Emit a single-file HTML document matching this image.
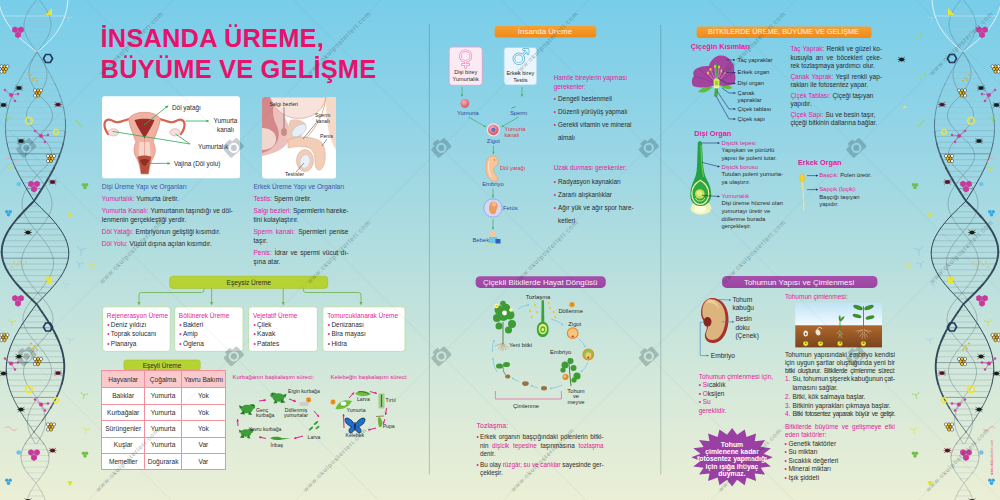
<!DOCTYPE html>
<html lang="tr"><head><meta charset="utf-8"><title>İnsanda Üreme, Büyüme ve Gelişme</title>
<style>
html,body{margin:0;padding:0}
body{width:1000px;height:500px;overflow:hidden;font-family:"Liberation Sans",sans-serif;}
#pg{position:relative;width:1000px;height:500px;overflow:hidden;
background:linear-gradient(180deg,#78cde9 0%,#92d4e6 25%,#b2dddf 50%,#d3e8da 75%,#ebefd5 100%);}
.t{position:absolute;white-space:nowrap;margin:0;padding:0}
.p{color:#e3219a}
.b{color:#e3219a}
svg{position:absolute;left:0;top:0}
table{border-collapse:collapse}
</style></head><body><div id="pg">

<svg width="1000" height="500" viewBox="0 0 1000 500">
<g id="hl"><path d="M33.3,3.0 H42.5 M30.4,8.8 H45.2 M26.9,14.6 H48.5 M24.7,20.4 H50.5 M24.0,26.2 H51.0 M25.0,32.0 H49.8 M27.4,37.8 H47.1 M31.1,43.6 H43.2 M34.4,55.2 H39.4 M31.8,61.0 H41.9 M28.0,66.8 H45.4 M24.3,72.6 H48.9 M20.8,78.4 H52.1 M17.6,84.2 H55.1 M14.7,90.0 H57.8 M12.1,95.8 H60.1 M9.9,101.6 H62.1 M8.1,107.4 H63.6 M6.8,113.2 H64.7 M6.2,119.0 H65.2 M5.6,124.8 H65.5 M25.0,443.8 H43.9 M22.2,449.6 H47.2 M21.0,455.4 H48.9 M21.7,461.2 H48.6 M24.2,467.0 H46.6 M26.8,472.8 H44.3 M31.6,478.6 H40.0 M31.5,490.2 H40.5 M28.4,496.0 H43.6" stroke="#9fbccb" stroke-width=".6" opacity=".6" fill="none"/>
<path d="M5.5,130.6 H65.3 M5.9,136.4 H64.7 M6.8,142.2 H63.6 M8.1,148.0 H62.0 M12.0,159.6 H57.6 M14.5,165.4 H54.9 M17.4,171.2 H51.8 M20.5,177.0 H48.4 M22.7,182.8 H46.1 M29.7,194.4 H38.6 M29.0,206.0 H39.2 M23.2,211.8 H45.3 M17.8,217.6 H51.0 M8.8,229.2 H60.6 M5.5,235.0 H64.2 M3.9,240.8 H66.0 M2.2,246.6 H67.9 M1.7,252.4 H68.7 M4.1,264.0 H67.0 M6.8,269.8 H64.5 M10.6,275.6 H61.1 M15.1,281.4 H56.8 M20.4,287.2 H51.8 M30.3,298.8 H42.5 M32.1,310.4 H40.6 M27.8,316.2 H44.7 M23.7,322.0 H48.5 M16.4,333.6 H55.4 M13.4,339.4 H58.2 M10.8,345.2 H60.6 M8.8,351.0 H62.4 M7.7,356.8 H63.2 M6.2,368.4 H64.2 M6.4,374.2 H63.8 M7.3,380.0 H62.8 M8.7,385.8 H61.1 M10.7,391.6 H58.9 M16.1,403.2 H52.9 M19.5,409.0 H49.3 M22.0,414.8 H46.8 M25.8,420.6 H42.7 M29.9,426.4 H38.4 M29.2,438.0 H39.3" stroke="#6f8796" stroke-width=".55" opacity=".5" fill="none"/>
<path d="M9.8,153.8 H60.0 M26.1,188.6 H42.4 M12.9,223.4 H56.2 M2.4,258.2 H68.4 M26.2,293.0 H46.3 M19.9,327.8 H52.1 M6.7,362.6 H64.1 M13.2,397.4 H56.2" stroke="#4f6676" stroke-width=".8" opacity=".7" fill="none"/>
<path d="M-2,-4 C0,22 18,38 37,52 C52,40 68,24 68,-4" stroke="#e8f6fb" stroke-width="1" fill="none" opacity=".9"/>
<path d="M3.6,16 H65" stroke="#d8eef6" stroke-width=".7" opacity=".8"/>
<path d="M37.0,52.0 L38.4,54.0 L39.8,56.0 L41.1,58.0 L42.3,60.0 L43.5,62.0 L44.5,64.0 L45.3,66.0 L46.0,68.0 L46.5,70.0 L46.9,72.0 L47.0,74.0 L47.0,76.0 L46.7,78.0 L46.3,80.0 L45.7,82.0 L45.0,84.0 L44.1,86.0 L43.1,88.0 L42.0,90.0 L40.8,92.0 L39.6,94.0 L38.0,96.0 L36.0,98.0 L34.2,100.0 L32.4,102.0 L30.8,104.0 L29.4,106.0 L28.2,108.0 L27.4,110.0 L26.8,112.0 L26.5,114.0 L26.6,116.0 L26.9,118.0 L27.6,120.0 L28.6,122.0 L29.8,124.0 L31.3,126.0 L33.0,128.0 L34.9,130.0 L36.9,132.0 L39.0,134.0 L40.9,136.0 L42.8,138.0 L44.6,140.0 L46.3,142.0 L47.8,144.0 L49.1,146.0 L50.1,148.0 L50.9,150.0 L51.4,152.0 L51.5,154.0 L51.4,156.0 L50.9,158.0 L50.1,160.0 L49.1,162.0 L47.7,164.0 L46.1,166.0 L44.3,168.0 L42.3,170.0 L40.3,172.0 L38.1,174.0 L36.2,176.0 L34.5,178.0 L32.9,180.0 L31.4,182.0 L29.9,184.0 L28.5,186.0 L27.1,188.0 L26.0,190.0 L24.9,192.0 L24.0,194.0 L23.3,196.0 L22.7,198.0 L22.3,200.0 L22.1,202.0 L22.0,204.0 L22.1,206.0 L22.5,208.0 L23.0,210.0 L23.6,212.0 L24.4,214.0 L25.4,216.0 L26.5,218.0 L27.8,220.0 L29.1,222.0 L30.6,224.0 L32.1,226.0 L33.7,228.0 L35.3,230.0 L37.0,232.0 L38.7,234.0 L40.3,236.0 L42.0,238.0 L43.5,240.0 L45.0,242.0 L46.5,244.0 L47.8,246.0 L49.0,248.0 L50.1,250.0 L51.0,252.0 L51.9,254.0 L52.5,256.0 L53.0,258.0 L53.3,260.0 L53.5,262.0 L53.5,264.0 L53.3,266.0 L53.0,268.0 L52.4,270.0 L51.8,272.0 L51.0,274.0 L50.0,276.0 L48.9,278.0 L47.7,280.0 L46.4,282.0 L45.0,284.0 L43.5,286.0 L42.0,288.0 L40.4,290.0 L38.8,292.0 L37.1,294.0 L35.3,296.0 L33.5,298.0 L31.8,300.0 L30.2,302.0 L28.7,304.0 L27.4,306.0 L26.2,308.0 L25.2,310.0 L24.3,312.0 L23.7,314.0 L23.2,316.0 L23.0,318.0 L23.0,320.0 L23.2,322.0 L23.7,324.0 L24.3,326.0 L25.2,328.0 L26.2,330.0 L27.4,332.0 L28.7,334.0 L30.2,336.0 L31.8,338.0 L33.5,340.0 L35.3,342.0 L37.1,344.0 L38.8,346.0 L40.4,348.0 L42.0,350.0 L43.5,352.0 L44.9,354.0 L46.3,356.0 L47.5,358.0 L48.6,360.0 L49.5,362.0 L50.3,364.0 L50.9,366.0 L51.3,368.0 L51.5,370.0 L51.5,372.0 L51.3,374.0 L50.9,376.0 L50.4,378.0 L49.6,380.0 L48.7,382.0 L47.6,384.0 L46.4,386.0 L45.0,388.0 L43.5,390.0 L42.0,392.0 L40.4,394.0 L38.7,396.0 L37.0,398.0 L35.8,400.0 L34.5,402.0 L33.4,404.0 L32.2,406.0 L31.2,408.0 L30.3,410.0 L29.5,412.0 L28.8,414.0 L28.2,416.0 L27.8,418.0 L27.6,420.0 L27.5,422.0 L27.6,424.0 L27.8,426.0 L28.2,428.0 L28.7,430.0 L29.4,432.0 L30.2,434.0 L31.1,436.0 L32.1,438.0 L33.2,440.0 L34.3,442.0 L35.4,444.0" stroke="#5d7282" stroke-width=".55" fill="none" opacity=".75"/>
<path d="M37.0,52.0 L35.8,54.0 L34.6,56.0 L33.5,58.0 L32.4,60.0 L31.5,62.0 L30.6,64.0 L30.0,66.0 L29.5,68.0 L29.1,70.0 L29.0,72.0 L29.0,74.0 L29.3,76.0 L29.7,78.0 L30.3,80.0 L31.1,82.0 L32.0,84.0 L33.1,86.0 L34.3,88.0 L35.6,90.0 L36.9,92.0 L38.3,94.0 L40.0,96.0 L42.1,98.0 L44.1,100.0 L46.0,102.0 L47.7,104.0 L49.2,106.0 L50.4,108.0 L51.4,110.0 L52.1,112.0 L52.4,114.0 L52.5,116.0 L52.2,118.0 L51.6,120.0 L50.8,122.0 L49.6,124.0 L48.2,126.0 L46.6,128.0 L44.8,130.0 L43.0,132.0 L41.0,134.0 L38.9,136.0 L36.7,138.0 L34.7,140.0 L32.7,142.0 L30.9,144.0 L29.3,146.0 L27.9,148.0 L26.9,150.0 L26.1,152.0 L25.6,154.0 L25.5,156.0 L25.6,158.0 L26.1,160.0 L26.9,162.0 L27.9,164.0 L29.2,166.0 L30.7,168.0 L32.4,170.0 L34.2,172.0 L36.1,174.0 L37.8,176.0 L39.5,178.0 L41.1,180.0 L42.6,182.0 L44.1,184.0 L45.5,186.0 L46.9,188.0 L48.0,190.0 L49.1,192.0 L50.0,194.0 L50.7,196.0 L51.3,198.0 L51.7,200.0 L51.9,202.0 L52.0,204.0 L51.9,206.0 L51.5,208.0 L51.0,210.0 L50.4,212.0 L49.6,214.0 L48.6,216.0 L47.5,218.0 L46.2,220.0 L44.9,222.0 L43.4,224.0 L41.9,226.0 L40.3,228.0 L38.7,230.0 L37.0,232.0 L35.4,234.0 L33.8,236.0 L32.2,238.0 L30.7,240.0 L29.3,242.0 L27.9,244.0 L26.7,246.0 L25.5,248.0 L24.5,250.0 L23.6,252.0 L22.9,254.0 L22.3,256.0 L21.9,258.0 L21.6,260.0 L21.5,262.0 L21.6,264.0 L21.8,266.0 L22.2,268.0 L22.8,270.0 L23.5,272.0 L24.4,274.0 L25.4,276.0 L26.6,278.0 L27.9,280.0 L29.2,282.0 L30.7,284.0 L32.2,286.0 L33.8,288.0 L35.5,290.0 L37.2,292.0 L38.9,294.0 L40.7,296.0 L42.5,298.0 L44.2,300.0 L45.8,302.0 L47.3,304.0 L48.6,306.0 L49.8,308.0 L50.8,310.0 L51.7,312.0 L52.3,314.0 L52.8,316.0 L53.0,318.0 L53.0,320.0 L52.8,322.0 L52.3,324.0 L51.7,326.0 L50.8,328.0 L49.8,330.0 L48.6,332.0 L47.3,334.0 L45.8,336.0 L44.2,338.0 L42.5,340.0 L40.7,342.0 L38.9,344.0 L37.2,346.0 L35.5,348.0 L33.8,350.0 L32.2,352.0 L30.7,354.0 L29.3,356.0 L28.0,358.0 L26.8,360.0 L25.8,362.0 L25.0,364.0 L24.3,366.0 L23.9,368.0 L23.6,370.0 L23.5,372.0 L23.6,374.0 L23.9,376.0 L24.4,378.0 L25.1,380.0 L25.9,382.0 L26.9,384.0 L28.1,386.0 L29.4,388.0 L30.8,390.0 L32.2,392.0 L33.8,394.0 L35.4,396.0 L37.0,398.0 L38.2,400.0 L39.3,402.0 L40.4,404.0 L41.4,406.0 L42.4,408.0 L43.2,410.0 L43.9,412.0 L44.6,414.0 L45.0,416.0 L45.3,418.0 L45.5,420.0 L45.5,422.0 L45.3,424.0 L45.0,426.0 L44.5,428.0 L43.9,430.0 L43.1,432.0 L42.3,434.0 L41.3,436.0 L40.2,438.0 L39.1,440.0 L37.9,442.0 L36.6,444.0" stroke="#5d7282" stroke-width=".55" fill="none" opacity=".75"/>
<path d="M39.5,0.0 L41.0,2.0 L42.5,4.0 L43.9,6.0 L45.2,8.0 L46.5,10.0 L47.6,12.0" stroke="#33495a" stroke-width="0.70" opacity="0.33" fill="none" stroke-linecap="round"/><path d="M47.6,12.0 L48.5,14.0 L49.4,16.0 L50.0,18.0 L50.5,20.0 L50.9,22.0 L51.0,24.0" stroke="#33495a" stroke-width="0.70" opacity="0.33" fill="none" stroke-linecap="round"/><path d="M51.0,24.0 L51.0,26.0 L50.7,28.0 L50.3,30.0 L49.8,32.0 L49.0,34.0 L48.1,36.0" stroke="#33495a" stroke-width="0.70" opacity="0.33" fill="none" stroke-linecap="round"/><path d="M48.1,36.0 L47.1,38.0 L45.9,40.0 L44.6,42.0 L43.2,44.0 L41.7,46.0 L40.2,48.0" stroke="#33495a" stroke-width="0.70" opacity="0.33" fill="none" stroke-linecap="round"/><path d="M40.2,48.0 L38.6,50.0 L37.0,52.0 L35.7,54.0 L34.4,56.0 L33.1,58.0 L31.8,60.0" stroke="#33495a" stroke-width="0.70" opacity="0.33" fill="none" stroke-linecap="round"/><path d="M31.8,60.0 L30.5,62.0 L29.2,64.0 L28.0,66.0 L26.7,68.0 L25.5,70.0 L24.3,72.0" stroke="#33495a" stroke-width="0.70" opacity="0.33" fill="none" stroke-linecap="round"/><path d="M24.3,72.0 L23.1,74.0 L22.0,76.0 L20.8,78.0 L19.7,80.0 L18.7,82.0 L17.6,84.0" stroke="#33495a" stroke-width="0.70" opacity="0.38" fill="none" stroke-linecap="round"/><path d="M17.6,84.0 L16.6,86.0 L15.6,88.0 L14.7,90.0 L13.8,92.0 L12.9,94.0 L12.1,96.0" stroke="#33495a" stroke-width="0.70" opacity="0.45" fill="none" stroke-linecap="round"/><path d="M12.1,96.0 L11.3,98.0 L10.6,100.0 L9.9,102.0 L9.3,104.0 L8.7,106.0 L8.1,108.0" stroke="#33495a" stroke-width="0.71" opacity="0.52" fill="none" stroke-linecap="round"/><path d="M8.1,108.0 L7.6,110.0 L7.2,112.0 L6.8,114.0 L6.4,116.0 L6.2,118.0 L5.9,120.0" stroke="#33495a" stroke-width="0.76" opacity="0.59" fill="none" stroke-linecap="round"/><path d="M5.9,120.0 L5.7,122.0 L5.6,124.0 L5.5,126.0 L5.5,128.0 L5.5,130.0 L5.6,132.0" stroke="#33495a" stroke-width="0.81" opacity="0.66" fill="none" stroke-linecap="round"/><path d="M5.6,132.0 L5.7,134.0 L5.9,136.0 L6.1,138.0 L6.4,140.0 L6.8,142.0 L7.2,144.0" stroke="#33495a" stroke-width="0.86" opacity="0.73" fill="none" stroke-linecap="round"/><path d="M7.2,144.0 L7.6,146.0 L8.1,148.0 L8.6,150.0 L9.2,152.0 L9.8,154.0 L10.5,156.0" stroke="#33495a" stroke-width="0.91" opacity="0.80" fill="none" stroke-linecap="round"/><path d="M10.5,156.0 L11.2,158.0 L12.0,160.0 L12.8,162.0 L13.6,164.0 L14.5,166.0 L15.4,168.0" stroke="#33495a" stroke-width="0.97" opacity="0.87" fill="none" stroke-linecap="round"/><path d="M15.4,168.0 L16.4,170.0 L17.4,172.0 L18.4,174.0 L19.4,176.0 L20.5,178.0 L21.6,180.0" stroke="#33495a" stroke-width="1.00" opacity="0.94" fill="none" stroke-linecap="round"/><path d="M21.6,180.0 L22.7,182.0 L23.8,184.0 L25.0,186.0 L26.1,188.0 L27.3,190.0 L28.5,192.0" stroke="#33495a" stroke-width="1.00" opacity="1.00" fill="none" stroke-linecap="round"/><path d="M28.5,192.0 L29.7,194.0 L30.9,196.0 L32.2,198.0 L33.4,200.0 L35.0,202.0 L37.1,204.0" stroke="#33495a" stroke-width="1.00" opacity="1.00" fill="none" stroke-linecap="round"/><path d="M37.1,204.0 L39.2,206.0 L41.3,208.0 L43.3,210.0 L45.3,212.0 L47.3,214.0 L49.2,216.0" stroke="#33495a" stroke-width="1.00" opacity="1.00" fill="none" stroke-linecap="round"/><path d="M49.2,216.0 L51.0,218.0 L52.8,220.0 L54.5,222.0 L56.2,224.0 L57.7,226.0 L59.2,228.0" stroke="#33495a" stroke-width="1.00" opacity="1.00" fill="none" stroke-linecap="round"/><path d="M59.2,228.0 L60.6,230.0 L61.9,232.0 L63.1,234.0 L64.2,236.0 L65.2,238.0 L66.0,240.0" stroke="#33495a" stroke-width="1.00" opacity="1.00" fill="none" stroke-linecap="round"/><path d="M66.0,240.0 L66.8,242.0 L67.4,244.0 L67.9,246.0 L68.3,248.0 L68.6,250.0 L68.7,252.0" stroke="#33495a" stroke-width="1.00" opacity="1.00" fill="none" stroke-linecap="round"/><path d="M68.7,252.0 L68.8,254.0 L68.6,256.0 L68.4,258.0 L68.1,260.0 L67.6,262.0 L67.0,264.0" stroke="#33495a" stroke-width="1.00" opacity="1.00" fill="none" stroke-linecap="round"/><path d="M67.0,264.0 L66.3,266.0 L65.5,268.0 L64.5,270.0 L63.5,272.0 L62.3,274.0 L61.1,276.0" stroke="#33495a" stroke-width="1.00" opacity="1.00" fill="none" stroke-linecap="round"/><path d="M61.1,276.0 L59.7,278.0 L58.3,280.0 L56.8,282.0 L55.2,284.0 L53.5,286.0 L51.8,288.0" stroke="#33495a" stroke-width="1.00" opacity="1.00" fill="none" stroke-linecap="round"/><path d="M51.8,288.0 L50.0,290.0 L48.2,292.0 L46.3,294.0 L44.4,296.0 L42.5,298.0 L40.5,300.0" stroke="#33495a" stroke-width="1.00" opacity="1.00" fill="none" stroke-linecap="round"/><path d="M40.5,300.0 L38.5,302.0 L36.5,304.0 L35.0,306.0 L33.6,308.0 L32.1,310.0 L30.7,312.0" stroke="#33495a" stroke-width="1.00" opacity="1.00" fill="none" stroke-linecap="round"/><path d="M30.7,312.0 L29.3,314.0 L27.8,316.0 L26.5,318.0 L25.1,320.0 L23.7,322.0 L22.4,324.0" stroke="#33495a" stroke-width="1.00" opacity="1.00" fill="none" stroke-linecap="round"/><path d="M22.4,324.0 L21.2,326.0 L19.9,328.0 L18.7,330.0 L17.6,332.0 L16.4,334.0 L15.4,336.0" stroke="#33495a" stroke-width="1.00" opacity="1.00" fill="none" stroke-linecap="round"/><path d="M15.4,336.0 L14.3,338.0 L13.4,340.0 L12.5,342.0 L11.6,344.0 L10.8,346.0 L10.1,348.0" stroke="#33495a" stroke-width="1.00" opacity="1.00" fill="none" stroke-linecap="round"/><path d="M10.1,348.0 L9.4,350.0 L8.8,352.0 L8.2,354.0 L7.7,356.0 L7.3,358.0 L7.0,360.0" stroke="#33495a" stroke-width="1.00" opacity="1.00" fill="none" stroke-linecap="round"/><path d="M7.0,360.0 L6.7,362.0 L6.5,364.0 L6.3,366.0 L6.2,368.0 L6.2,370.0 L6.3,372.0" stroke="#33495a" stroke-width="1.00" opacity="1.00" fill="none" stroke-linecap="round"/><path d="M6.3,372.0 L6.4,374.0 L6.7,376.0 L6.9,378.0 L7.3,380.0 L7.7,382.0 L8.1,384.0" stroke="#33495a" stroke-width="1.00" opacity="1.00" fill="none" stroke-linecap="round"/><path d="M8.1,384.0 L8.7,386.0 L9.3,388.0 L9.9,390.0 L10.7,392.0 L11.4,394.0 L12.3,396.0" stroke="#33495a" stroke-width="0.96" opacity="0.93" fill="none" stroke-linecap="round"/><path d="M12.3,396.0 L13.2,398.0 L14.1,400.0 L15.1,402.0 L16.1,404.0 L17.2,406.0 L18.4,408.0" stroke="#33495a" stroke-width="0.91" opacity="0.85" fill="none" stroke-linecap="round"/><path d="M18.4,408.0 L19.5,410.0 L20.7,412.0 L22.0,414.0 L23.2,416.0 L24.5,418.0 L25.8,420.0" stroke="#33495a" stroke-width="0.85" opacity="0.77" fill="none" stroke-linecap="round"/><path d="M25.8,420.0 L27.1,422.0 L28.5,424.0 L29.9,426.0 L31.2,428.0 L32.6,430.0 L34.0,432.0" stroke="#33495a" stroke-width="0.80" opacity="0.69" fill="none" stroke-linecap="round"/><path d="M34.0,432.0 L35.8,434.0 L37.6,436.0 L39.3,438.0 L40.9,440.0 L42.5,442.0 L43.9,444.0" stroke="#33495a" stroke-width="0.75" opacity="0.61" fill="none" stroke-linecap="round"/><path d="M43.9,444.0 L45.2,446.0 L46.3,448.0 L47.2,450.0 L48.0,452.0 L48.5,454.0 L48.9,456.0" stroke="#33495a" stroke-width="0.70" opacity="0.53" fill="none" stroke-linecap="round"/><path d="M48.9,456.0 L49.0,458.0 L48.9,460.0 L48.6,462.0 L48.1,464.0 L47.5,466.0 L46.6,468.0" stroke="#33495a" stroke-width="0.70" opacity="0.45" fill="none" stroke-linecap="round"/><path d="M46.6,468.0 L45.5,470.0 L44.3,472.0 L43.0,474.0 L41.6,476.0 L40.0,478.0 L38.5,480.0" stroke="#33495a" stroke-width="0.70" opacity="0.37" fill="none" stroke-linecap="round"/><path d="M38.5,480.0 L36.8,482.0 L35.3,484.0 L34.0,486.0 L32.7,488.0 L31.5,490.0 L30.3,492.0" stroke="#33495a" stroke-width="0.70" opacity="0.33" fill="none" stroke-linecap="round"/><path d="M30.3,492.0 L29.3,494.0 L28.4,496.0 L27.6,498.0 L26.9,500.0" stroke="#33495a" stroke-width="0.70" opacity="0.33" fill="none" stroke-linecap="round"/>
<path d="M36.4,0.0 L34.8,2.0 L33.3,4.0 L31.8,6.0 L30.4,8.0 L29.1,10.0 L27.9,12.0" stroke="#33495a" stroke-width="0.70" opacity="0.33" fill="none" stroke-linecap="round"/><path d="M27.9,12.0 L26.9,14.0 L26.0,16.0 L25.2,18.0 L24.7,20.0 L24.3,22.0 L24.0,24.0" stroke="#33495a" stroke-width="0.70" opacity="0.33" fill="none" stroke-linecap="round"/><path d="M24.0,24.0 L24.0,26.0 L24.1,28.0 L24.5,30.0 L25.0,32.0 L25.6,34.0 L26.5,36.0" stroke="#33495a" stroke-width="0.70" opacity="0.33" fill="none" stroke-linecap="round"/><path d="M26.5,36.0 L27.4,38.0 L28.5,40.0 L29.8,42.0 L31.1,44.0 L32.5,46.0 L34.0,48.0" stroke="#33495a" stroke-width="0.70" opacity="0.33" fill="none" stroke-linecap="round"/><path d="M34.0,48.0 L35.5,50.0 L37.0,52.0 L38.2,54.0 L39.4,56.0 L40.7,58.0 L41.9,60.0" stroke="#33495a" stroke-width="0.70" opacity="0.33" fill="none" stroke-linecap="round"/><path d="M41.9,60.0 L43.1,62.0 L44.3,64.0 L45.4,66.0 L46.6,68.0 L47.8,70.0 L48.9,72.0" stroke="#33495a" stroke-width="0.70" opacity="0.33" fill="none" stroke-linecap="round"/><path d="M48.9,72.0 L50.0,74.0 L51.1,76.0 L52.1,78.0 L53.1,80.0 L54.1,82.0 L55.1,84.0" stroke="#33495a" stroke-width="0.70" opacity="0.38" fill="none" stroke-linecap="round"/><path d="M55.1,84.0 L56.0,86.0 L56.9,88.0 L57.8,90.0 L58.6,92.0 L59.4,94.0 L60.1,96.0" stroke="#33495a" stroke-width="0.70" opacity="0.45" fill="none" stroke-linecap="round"/><path d="M60.1,96.0 L60.8,98.0 L61.5,100.0 L62.1,102.0 L62.6,104.0 L63.2,106.0 L63.6,108.0" stroke="#33495a" stroke-width="0.70" opacity="0.52" fill="none" stroke-linecap="round"/><path d="M63.6,108.0 L64.0,110.0 L64.4,112.0 L64.7,114.0 L65.0,116.0 L65.2,118.0 L65.3,120.0" stroke="#33495a" stroke-width="0.78" opacity="0.59" fill="none" stroke-linecap="round"/><path d="M65.3,120.0 L65.5,122.0 L65.5,124.0 L65.5,126.0 L65.5,128.0 L65.3,130.0 L65.2,132.0" stroke="#33495a" stroke-width="1.02" opacity="0.66" fill="none" stroke-linecap="round"/><path d="M65.2,132.0 L65.0,134.0 L64.7,136.0 L64.4,138.0 L64.0,140.0 L63.6,142.0 L63.1,144.0" stroke="#33495a" stroke-width="1.26" opacity="0.73" fill="none" stroke-linecap="round"/><path d="M63.1,144.0 L62.6,146.0 L62.0,148.0 L61.4,150.0 L60.8,152.0 L60.0,154.0 L59.3,156.0" stroke="#33495a" stroke-width="1.50" opacity="0.80" fill="none" stroke-linecap="round"/><path d="M59.3,156.0 L58.5,158.0 L57.6,160.0 L56.8,162.0 L55.8,164.0 L54.9,166.0 L53.9,168.0" stroke="#33495a" stroke-width="1.74" opacity="0.87" fill="none" stroke-linecap="round"/><path d="M53.9,168.0 L52.9,170.0 L51.8,172.0 L50.7,174.0 L49.6,176.0 L48.4,178.0 L47.3,180.0" stroke="#33495a" stroke-width="1.90" opacity="0.94" fill="none" stroke-linecap="round"/><path d="M47.3,180.0 L46.1,182.0 L44.9,184.0 L43.6,186.0 L42.4,188.0 L41.1,190.0 L39.8,192.0" stroke="#33495a" stroke-width="1.90" opacity="1.00" fill="none" stroke-linecap="round"/><path d="M39.8,192.0 L38.6,194.0 L37.3,196.0 L36.0,198.0 L34.7,200.0 L33.0,202.0 L31.0,204.0" stroke="#33495a" stroke-width="1.90" opacity="1.00" fill="none" stroke-linecap="round"/><path d="M31.0,204.0 L29.0,206.0 L27.1,208.0 L25.1,210.0 L23.2,212.0 L21.4,214.0 L19.6,216.0" stroke="#33495a" stroke-width="1.90" opacity="1.00" fill="none" stroke-linecap="round"/><path d="M19.6,216.0 L17.8,218.0 L16.1,220.0 L14.5,222.0 L12.9,224.0 L11.5,226.0 L10.1,228.0" stroke="#33495a" stroke-width="1.90" opacity="1.00" fill="none" stroke-linecap="round"/><path d="M10.1,228.0 L8.8,230.0 L7.6,232.0 L6.5,234.0 L5.5,236.0 L4.6,238.0 L3.9,240.0" stroke="#33495a" stroke-width="1.90" opacity="1.00" fill="none" stroke-linecap="round"/><path d="M3.9,240.0 L3.2,242.0 L2.7,244.0 L2.2,246.0 L2.0,248.0 L1.8,250.0 L1.7,252.0" stroke="#33495a" stroke-width="1.90" opacity="1.00" fill="none" stroke-linecap="round"/><path d="M1.7,252.0 L1.8,254.0 L2.0,256.0 L2.4,258.0 L2.8,260.0 L3.4,262.0 L4.1,264.0" stroke="#33495a" stroke-width="1.90" opacity="1.00" fill="none" stroke-linecap="round"/><path d="M4.1,264.0 L4.9,266.0 L5.8,268.0 L6.8,270.0 L8.0,272.0 L9.2,274.0 L10.6,276.0" stroke="#33495a" stroke-width="1.90" opacity="1.00" fill="none" stroke-linecap="round"/><path d="M10.6,276.0 L12.0,278.0 L13.5,280.0 L15.1,282.0 L16.8,284.0 L18.6,286.0 L20.4,288.0" stroke="#33495a" stroke-width="1.90" opacity="1.00" fill="none" stroke-linecap="round"/><path d="M20.4,288.0 L22.3,290.0 L24.2,292.0 L26.2,294.0 L28.2,296.0 L30.3,298.0 L32.3,300.0" stroke="#33495a" stroke-width="1.90" opacity="1.00" fill="none" stroke-linecap="round"/><path d="M32.3,300.0 L34.4,302.0 L36.5,304.0 L37.9,306.0 L39.3,308.0 L40.6,310.0 L42.0,312.0" stroke="#33495a" stroke-width="1.90" opacity="1.00" fill="none" stroke-linecap="round"/><path d="M42.0,312.0 L43.4,314.0 L44.7,316.0 L46.0,318.0 L47.3,320.0 L48.5,322.0 L49.8,324.0" stroke="#33495a" stroke-width="1.90" opacity="1.00" fill="none" stroke-linecap="round"/><path d="M49.8,324.0 L51.0,326.0 L52.1,328.0 L53.3,330.0 L54.4,332.0 L55.4,334.0 L56.4,336.0" stroke="#33495a" stroke-width="1.90" opacity="1.00" fill="none" stroke-linecap="round"/><path d="M56.4,336.0 L57.3,338.0 L58.2,340.0 L59.1,342.0 L59.8,344.0 L60.6,346.0 L61.2,348.0" stroke="#33495a" stroke-width="1.90" opacity="1.00" fill="none" stroke-linecap="round"/><path d="M61.2,348.0 L61.8,350.0 L62.4,352.0 L62.8,354.0 L63.2,356.0 L63.6,358.0 L63.8,360.0" stroke="#33495a" stroke-width="1.90" opacity="1.00" fill="none" stroke-linecap="round"/><path d="M63.8,360.0 L64.1,362.0 L64.2,364.0 L64.3,366.0 L64.2,368.0 L64.2,370.0 L64.0,372.0" stroke="#33495a" stroke-width="1.90" opacity="1.00" fill="none" stroke-linecap="round"/><path d="M64.0,372.0 L63.8,374.0 L63.5,376.0 L63.2,378.0 L62.8,380.0 L62.3,382.0 L61.7,384.0" stroke="#33495a" stroke-width="1.90" opacity="1.00" fill="none" stroke-linecap="round"/><path d="M61.7,384.0 L61.1,386.0 L60.4,388.0 L59.7,390.0 L58.9,392.0 L58.0,394.0 L57.1,396.0" stroke="#33495a" stroke-width="1.70" opacity="0.93" fill="none" stroke-linecap="round"/><path d="M57.1,396.0 L56.2,398.0 L55.1,400.0 L54.1,402.0 L52.9,404.0 L51.8,406.0 L50.6,408.0" stroke="#33495a" stroke-width="1.46" opacity="0.85" fill="none" stroke-linecap="round"/><path d="M50.6,408.0 L49.3,410.0 L48.1,412.0 L46.8,414.0 L45.4,416.0 L44.0,418.0 L42.7,420.0" stroke="#33495a" stroke-width="1.22" opacity="0.77" fill="none" stroke-linecap="round"/><path d="M42.7,420.0 L41.2,422.0 L39.8,424.0 L38.4,426.0 L36.9,428.0 L35.5,430.0 L34.0,432.0" stroke="#33495a" stroke-width="0.98" opacity="0.69" fill="none" stroke-linecap="round"/><path d="M34.0,432.0 L32.4,434.0 L30.7,436.0 L29.2,438.0 L27.7,440.0 L26.3,442.0 L25.0,444.0" stroke="#33495a" stroke-width="0.74" opacity="0.61" fill="none" stroke-linecap="round"/><path d="M25.0,444.0 L23.9,446.0 L23.0,448.0 L22.2,450.0 L21.6,452.0 L21.2,454.0 L21.0,456.0" stroke="#33495a" stroke-width="0.70" opacity="0.53" fill="none" stroke-linecap="round"/><path d="M21.0,456.0 L21.0,458.0 L21.3,460.0 L21.7,462.0 L22.4,464.0 L23.2,466.0 L24.2,468.0" stroke="#33495a" stroke-width="0.70" opacity="0.45" fill="none" stroke-linecap="round"/><path d="M24.2,468.0 L25.4,470.0 L26.8,472.0 L28.3,474.0 L29.9,476.0 L31.6,478.0 L33.3,480.0" stroke="#33495a" stroke-width="0.70" opacity="0.37" fill="none" stroke-linecap="round"/><path d="M33.3,480.0 L35.1,482.0 L36.7,484.0 L38.0,486.0 L39.3,488.0 L40.5,490.0 L41.7,492.0" stroke="#33495a" stroke-width="0.70" opacity="0.33" fill="none" stroke-linecap="round"/><path d="M41.7,492.0 L42.7,494.0 L43.6,496.0 L44.4,498.0 L45.1,500.0" stroke="#33495a" stroke-width="0.70" opacity="0.33" fill="none" stroke-linecap="round"/>
<polygon points="45.5,15 52,8 52,15" fill="#e8e337"/><polygon points="20.9,36.6 18.0,38.2 15.1,36.6 15.1,33.3 18.0,31.6 20.9,33.3" fill="#c9399c"/><polygon points="17.9,31.4 15.0,33.1 12.2,31.4 12.2,28.1 15.0,26.5 17.9,28.1" fill="#c9399c"/><polygon points="23.8,31.4 21.0,33.1 18.1,31.4 18.1,28.1 21.0,26.5 23.8,28.1" fill="#c9399c"/><polygon points="52.6,58.5 50.3,62.5 45.7,62.5 43.4,58.5 45.7,54.5 50.3,54.5" fill="none" stroke="#1f3a5c" stroke-width="1.6"/><polygon points="3.0,67.2 1.5,68.1 0.0,67.2 0.0,65.6 1.5,64.7 3.0,65.6" fill="#fff" stroke="#222" stroke-width=".5"/><polygon points="6.0,67.2 4.5,68.1 3.0,67.2 3.0,65.6 4.5,64.7 6.0,65.6" fill="#f5c518" stroke="#222" stroke-width=".5"/><polygon points="9.0,67.2 7.5,68.1 6.0,67.2 6.0,65.6 7.5,64.7 9.0,65.6" fill="#fff" stroke="#222" stroke-width=".5"/><polygon points="4.5,69.8 3.0,70.7 1.5,69.8 1.5,68.2 3.0,67.3 4.5,68.2" fill="#f09a1a" stroke="#222" stroke-width=".5"/><polygon points="7.5,69.8 6.0,70.7 4.5,69.8 4.5,68.2 6.0,67.3 7.5,68.2" fill="#f5c518" stroke="#222" stroke-width=".5"/><polygon points="3.0,72.4 1.5,73.3 0.0,72.4 0.0,70.8 1.5,69.9 3.0,70.8" fill="#fff" stroke="#222" stroke-width=".5"/><polygon points="6.0,72.4 4.5,73.3 3.0,72.4 3.0,70.8 4.5,69.9 6.0,70.8" fill="#f5c518" stroke="#222" stroke-width=".5"/><circle cx="31" cy="75" r="1" fill="#e2b21c"/><circle cx="34.5" cy="78" r="1" fill="#e2b21c"/><circle cx="37" cy="81" r="1" fill="#e2b21c"/><circle cx="33" cy="80" r="1" fill="#e2b21c"/><polygon points="36.5,91.2 35.0,92.1 33.5,91.2 33.5,89.6 35.0,88.7 36.5,89.6" fill="#fff" stroke="#222" stroke-width=".5"/><polygon points="39.5,91.2 38.0,92.1 36.5,91.2 36.5,89.6 38.0,88.7 39.5,89.6" fill="#f5c518" stroke="#222" stroke-width=".5"/><polygon points="42.5,91.2 41.0,92.1 39.5,91.2 39.5,89.6 41.0,88.7 42.5,89.6" fill="#fff" stroke="#222" stroke-width=".5"/><polygon points="38.0,93.8 36.5,94.7 35.0,93.8 35.0,92.2 36.5,91.3 38.0,92.2" fill="#f09a1a" stroke="#222" stroke-width=".5"/><polygon points="41.0,93.8 39.5,94.7 38.0,93.8 38.0,92.2 39.5,91.3 41.0,92.2" fill="#f5c518" stroke="#222" stroke-width=".5"/><polygon points="36.5,96.4 35.0,97.3 33.5,96.4 33.5,94.8 35.0,93.9 36.5,94.8" fill="#fff" stroke="#222" stroke-width=".5"/><polygon points="39.5,96.4 38.0,97.3 36.5,96.4 36.5,94.8 38.0,93.9 39.5,94.8" fill="#f5c518" stroke="#222" stroke-width=".5"/><g fill="#1a1a1a" stroke="#1a1a1a" stroke-width=".5"><ellipse cx="19" cy="88" rx="2.3" ry="1.7"/><path d="M15.5,85.5 L22.5,90.5 M15.5,90.5 L22.5,85.5 M15,88 H23" fill="none"/></g><g stroke="#c9399c" stroke-width=".5" fill="#c9399c"><path d="M11,95 L5,90 M11,95 L18,94 M11,95 L15,101" fill="none"/><circle cx="11" cy="95" r="1.8"/><circle cx="5" cy="90" r="1"/><circle cx="18" cy="94" r="1"/><circle cx="15" cy="101" r="1"/></g><g fill="#1a1a1a" stroke="#1a1a1a" stroke-width=".5"><ellipse cx="3.5" cy="105" rx="2.3" ry="1.7"/><path d="M0.0,102.5 L7.0,107.5 M0.0,107.5 L7.0,102.5 M-0.5,105 H7.5" fill="none"/></g><g fill="#5a1022" stroke="#5a1022" stroke-width=".5"><ellipse cx="58" cy="104.6" rx="2.3" ry="1.7"/><path d="M54.5,102.1 L61.5,107.1 M54.5,107.1 L61.5,102.1 M54,104.6 H62" fill="none"/></g><polygon points="32.6,120.6 30.8,123.7 27.2,123.7 25.4,120.6 27.2,117.5 30.8,117.5" fill="none" stroke="#f0e530" stroke-width="1.5"/><polygon points="58.6,131.8 57.3,134.1 54.7,134.1 53.4,131.8 54.7,129.5 57.3,129.5" fill="none" stroke="#f0e530" stroke-width="1.3"/><g stroke="#c9399c" stroke-width=".5" fill="#c9399c"><path d="M41,136 L35,131 M41,136 L48,135 M41,136 L45,142" fill="none"/><circle cx="41" cy="136" r="1.8"/><circle cx="35" cy="131" r="1"/><circle cx="48" cy="135" r="1"/><circle cx="45" cy="142" r="1"/></g><g fill="#1a1a1a" stroke="#1a1a1a" stroke-width=".5"><ellipse cx="21" cy="141" rx="2.3" ry="1.7"/><path d="M17.5,138.5 L24.5,143.5 M17.5,143.5 L24.5,138.5 M17,141 H25" fill="none"/></g><polygon points="49.5,156.8 48.0,157.6 46.5,156.8 46.5,155.1 48.0,154.2 49.5,155.1" fill="#fff" stroke="#222" stroke-width=".5"/><polygon points="52.5,156.8 51.0,157.6 49.5,156.8 49.5,155.1 51.0,154.2 52.5,155.1" fill="#f5c518" stroke="#222" stroke-width=".5"/><polygon points="55.5,156.8 54.0,157.6 52.5,156.8 52.5,155.1 54.0,154.2 55.5,155.1" fill="#fff" stroke="#222" stroke-width=".5"/><polygon points="51.0,159.3 49.5,160.2 48.0,159.3 48.0,157.7 49.5,156.8 51.0,157.7" fill="#f09a1a" stroke="#222" stroke-width=".5"/><polygon points="54.0,159.3 52.5,160.2 51.0,159.3 51.0,157.7 52.5,156.8 54.0,157.7" fill="#f5c518" stroke="#222" stroke-width=".5"/><polygon points="49.5,161.9 48.0,162.8 46.5,161.9 46.5,160.2 48.0,159.4 49.5,160.2" fill="#fff" stroke="#222" stroke-width=".5"/><polygon points="52.5,161.9 51.0,162.8 49.5,161.9 49.5,160.2 51.0,159.4 52.5,160.2" fill="#f5c518" stroke="#222" stroke-width=".5"/><g fill="#5a1022" stroke="#5a1022" stroke-width=".5"><ellipse cx="52.6" cy="182" rx="2.3" ry="1.7"/><path d="M49.1,179.5 L56.1,184.5 M49.1,184.5 L56.1,179.5 M48.6,182 H56.6" fill="none"/></g><polygon points="36.9,190.8 34.0,192.4 31.1,190.8 31.1,187.5 34.0,185.8 36.9,187.5" fill="#c9399c"/><polygon points="33.9,185.6 31.0,187.3 28.2,185.6 28.2,182.3 31.0,180.7 33.9,182.3" fill="#c9399c"/><polygon points="39.8,185.6 37.0,187.3 34.1,185.6 34.1,182.3 37.0,180.7 39.8,182.3" fill="#c9399c"/><circle cx="18.7" cy="184" r="2.3" fill="#6fc3e8"/><circle cx="8.5" cy="214.7" r="1.8" fill="#3aa6df"/><circle cx="6.8" cy="211.8" r="1.8" fill="#3aa6df"/><circle cx="10.2" cy="211.8" r="1.8" fill="#3aa6df"/><g fill="#1a1a1a" stroke="#1a1a1a" stroke-width=".5"><ellipse cx="28" cy="232.5" rx="2.3" ry="1.7"/><path d="M24.5,230.0 L31.5,235.0 M24.5,235.0 L31.5,230.0 M24,232.5 H32" fill="none"/></g><circle cx="14" cy="262" r=".8" fill="#f2b33a"/><circle cx="17" cy="265" r=".8" fill="#f2b33a"/><circle cx="20" cy="262" r=".8" fill="#f2b33a"/><circle cx="23" cy="266" r=".8" fill="#f2b33a"/><circle cx="12" cy="267" r=".8" fill="#f2b33a"/><circle cx="26" cy="262" r=".8" fill="#f2b33a"/><circle cx="49.0" cy="280.8" r="1.7" fill="#e8e337"/><circle cx="47.4" cy="278.1" r="1.7" fill="#e8e337"/><circle cx="50.6" cy="278.1" r="1.7" fill="#e8e337"/><circle cx="85.0" cy="187.5" r="1.7" fill="#6cc04a"/><circle cx="83.4" cy="184.8" r="1.7" fill="#6cc04a"/><circle cx="86.6" cy="184.8" r="1.7" fill="#6cc04a"/><circle cx="70.0" cy="215.8" r="1.2" fill="#d8e23a"/><circle cx="68.9" cy="213.8" r="1.2" fill="#d8e23a"/><circle cx="71.1" cy="213.8" r="1.2" fill="#d8e23a"/><g stroke="#6fb6e0" stroke-width=".5" fill="none" opacity=".8"><path d="M81,250 l-4,-4 M81,250 l5,-2 M81,250 l0,6"/></g><path d="M5,160 q3,-4 6,0 t6,0" stroke="#f29aa0" stroke-width=".8" fill="none"/><g stroke="#9ad65a" stroke-width=".45" fill="#9ad65a" opacity="0.9"><path d="M5.5,116 L8,118 L11,117 M8,118 L7.5,121" fill="none"/><circle cx="8" cy="118" r=".9"/><circle cx="5.5" cy="116" r=".6"/><circle cx="11" cy="117" r=".6"/><circle cx="7.5" cy="121" r=".6"/></g><g stroke="#c9dc4a" stroke-width=".45" fill="#c9dc4a" opacity="0.9"><path d="M7.5,166 L10,168 L13,167 M10,168 L9.5,171" fill="none"/><circle cx="10" cy="168" r=".9"/><circle cx="7.5" cy="166" r=".6"/><circle cx="13" cy="167" r=".6"/><circle cx="9.5" cy="171" r=".6"/></g><g stroke="#8fc8ea" stroke-width=".45" fill="#8fc8ea" opacity="0.8"><path d="M77.0,262 L79.5,264 L82.5,263 M79.5,264 L79.0,267" fill="none"/><circle cx="79.5" cy="264" r=".9"/><circle cx="77.0" cy="262" r=".6"/><circle cx="82.5" cy="263" r=".6"/><circle cx="79.0" cy="267" r=".6"/></g><g stroke="#e6e24a" stroke-width=".45" fill="#e6e24a" opacity="0.9"><path d="M89.0,263.6 L91.5,265.6 L94.5,264.6 M91.5,265.6 L91.0,268.6" fill="none"/><circle cx="91.5" cy="265.6" r=".9"/><circle cx="89.0" cy="263.6" r=".6"/><circle cx="94.5" cy="264.6" r=".6"/><circle cx="91.0" cy="268.6" r=".6"/></g><g stroke="#a9cfe6" stroke-width=".45" fill="#a9cfe6" opacity="0.7"><path d="M63.5,283 L66,285 L69,284 M66,285 L65.5,288" fill="none"/><circle cx="66" cy="285" r=".9"/><circle cx="63.5" cy="283" r=".6"/><circle cx="69" cy="284" r=".6"/><circle cx="65.5" cy="288" r=".6"/></g><g stroke="#a9d8ee" stroke-width=".45" fill="#a9d8ee" opacity="0.7"><path d="M66.0,16 L68.5,18 L71.5,17 M68.5,18 L68.0,21" fill="none"/><circle cx="68.5" cy="18" r=".9"/><circle cx="66.0" cy="16" r=".6"/><circle cx="71.5" cy="17" r=".6"/><circle cx="68.0" cy="21" r=".6"/></g><g stroke="#9ad65a" stroke-width=".45" fill="#9ad65a" opacity="0.8"><path d="M81.5,393 L84,395 L87,394 M84,395 L83.5,398" fill="none"/><circle cx="84" cy="395" r=".9"/><circle cx="81.5" cy="393" r=".6"/><circle cx="87" cy="394" r=".6"/><circle cx="83.5" cy="398" r=".6"/></g><g stroke="#c9dc4a" stroke-width=".45" fill="#c9dc4a" opacity="0.8"><path d="M9.5,320 L12,322 L15,321 M12,322 L11.5,325" fill="none"/><circle cx="12" cy="322" r=".9"/><circle cx="9.5" cy="320" r=".6"/><circle cx="15" cy="321" r=".6"/><circle cx="11.5" cy="325" r=".6"/></g><g stroke="#a9cfe6" stroke-width=".45" fill="#a9cfe6" opacity="0.7"><path d="M67.5,338 L70,340 L73,339 M70,340 L69.5,343" fill="none"/><circle cx="70" cy="340" r=".9"/><circle cx="67.5" cy="338" r=".6"/><circle cx="73" cy="339" r=".6"/><circle cx="69.5" cy="343" r=".6"/></g><g stroke="#e6e24a" stroke-width=".45" fill="#e6e24a" opacity="0.8"><path d="M83.5,428 L86,430 L89,429 M86,430 L85.5,433" fill="none"/><circle cx="86" cy="430" r=".9"/><circle cx="83.5" cy="428" r=".6"/><circle cx="89" cy="429" r=".6"/><circle cx="85.5" cy="433" r=".6"/></g><g stroke="#9ad65a" stroke-width=".45" fill="#9ad65a" opacity=".9"><path d="M76.500,121 L81.500,126" fill="none"/><circle cx="76.500" cy="121" r=".8"/><circle cx="79" cy="123.500" r="1"/><circle cx="81.500" cy="126" r=".8"/></g>
<polygon points="45.5,283.5 52,276.5 52,283.5" fill="#e8e337"/><polygon points="20.9,305.1 18.0,306.7 15.1,305.1 15.1,301.8 18.0,300.1 20.9,301.8" fill="#c9399c"/><polygon points="17.9,299.9 15.0,301.6 12.2,299.9 12.2,296.6 15.0,295.0 17.9,296.6" fill="#c9399c"/><polygon points="23.8,299.9 21.0,301.6 18.1,299.9 18.1,296.6 21.0,295.0 23.8,296.6" fill="#c9399c"/><polygon points="52.6,327.0 50.3,331.0 45.7,331.0 43.4,327.0 45.7,323.0 50.3,323.0" fill="none" stroke="#1f3a5c" stroke-width="1.6"/><polygon points="3.0,335.8 1.5,336.6 0.0,335.8 0.0,334.0 1.5,333.2 3.0,334.0" fill="#fff" stroke="#222" stroke-width=".5"/><polygon points="6.0,335.8 4.5,336.6 3.0,335.8 3.0,334.0 4.5,333.2 6.0,334.0" fill="#f5c518" stroke="#222" stroke-width=".5"/><polygon points="9.0,335.8 7.5,336.6 6.0,335.8 6.0,334.0 7.5,333.2 9.0,334.0" fill="#fff" stroke="#222" stroke-width=".5"/><polygon points="4.5,338.4 3.0,339.2 1.5,338.4 1.5,336.6 3.0,335.8 4.5,336.6" fill="#f09a1a" stroke="#222" stroke-width=".5"/><polygon points="7.5,338.4 6.0,339.2 4.5,338.4 4.5,336.6 6.0,335.8 7.5,336.6" fill="#f5c518" stroke="#222" stroke-width=".5"/><polygon points="3.0,341.0 1.5,341.8 0.0,341.0 0.0,339.2 1.5,338.4 3.0,339.2" fill="#fff" stroke="#222" stroke-width=".5"/><polygon points="6.0,341.0 4.5,341.8 3.0,341.0 3.0,339.2 4.5,338.4 6.0,339.2" fill="#f5c518" stroke="#222" stroke-width=".5"/><circle cx="31" cy="343.5" r="1" fill="#e2b21c"/><circle cx="34.5" cy="346.5" r="1" fill="#e2b21c"/><circle cx="37" cy="349.5" r="1" fill="#e2b21c"/><circle cx="33" cy="348.5" r="1" fill="#e2b21c"/><polygon points="36.5,359.8 35.0,360.6 33.5,359.8 33.5,358.0 35.0,357.2 36.5,358.0" fill="#fff" stroke="#222" stroke-width=".5"/><polygon points="39.5,359.8 38.0,360.6 36.5,359.8 36.5,358.0 38.0,357.2 39.5,358.0" fill="#f5c518" stroke="#222" stroke-width=".5"/><polygon points="42.5,359.8 41.0,360.6 39.5,359.8 39.5,358.0 41.0,357.2 42.5,358.0" fill="#fff" stroke="#222" stroke-width=".5"/><polygon points="38.0,362.4 36.5,363.2 35.0,362.4 35.0,360.6 36.5,359.8 38.0,360.6" fill="#f09a1a" stroke="#222" stroke-width=".5"/><polygon points="41.0,362.4 39.5,363.2 38.0,362.4 38.0,360.6 39.5,359.8 41.0,360.6" fill="#f5c518" stroke="#222" stroke-width=".5"/><polygon points="36.5,365.0 35.0,365.8 33.5,365.0 33.5,363.2 35.0,362.4 36.5,363.2" fill="#fff" stroke="#222" stroke-width=".5"/><polygon points="39.5,365.0 38.0,365.8 36.5,365.0 36.5,363.2 38.0,362.4 39.5,363.2" fill="#f5c518" stroke="#222" stroke-width=".5"/><g fill="#1a1a1a" stroke="#1a1a1a" stroke-width=".5"><ellipse cx="19" cy="356.5" rx="2.3" ry="1.7"/><path d="M15.5,354.0 L22.5,359.0 M15.5,359.0 L22.5,354.0 M15,356.5 H23" fill="none"/></g><g stroke="#c9399c" stroke-width=".5" fill="#c9399c"><path d="M11,363.5 L5,358.5 M11,363.5 L18,362.5 M11,363.5 L15,369.5" fill="none"/><circle cx="11" cy="363.5" r="1.8"/><circle cx="5" cy="358.5" r="1"/><circle cx="18" cy="362.5" r="1"/><circle cx="15" cy="369.5" r="1"/></g><g fill="#1a1a1a" stroke="#1a1a1a" stroke-width=".5"><ellipse cx="3.5" cy="373.5" rx="2.3" ry="1.7"/><path d="M0.0,371.0 L7.0,376.0 M0.0,376.0 L7.0,371.0 M-0.5,373.5 H7.5" fill="none"/></g><g fill="#5a1022" stroke="#5a1022" stroke-width=".5"><ellipse cx="58" cy="373.1" rx="2.3" ry="1.7"/><path d="M54.5,370.6 L61.5,375.6 M54.5,375.6 L61.5,370.6 M54,373.1 H62" fill="none"/></g><polygon points="32.6,389.1 30.8,392.2 27.2,392.2 25.4,389.1 27.2,386.0 30.8,386.0" fill="none" stroke="#f0e530" stroke-width="1.5"/><polygon points="58.6,400.3 57.3,402.6 54.7,402.6 53.4,400.3 54.7,398.0 57.3,398.0" fill="none" stroke="#f0e530" stroke-width="1.3"/><g stroke="#c9399c" stroke-width=".5" fill="#c9399c"><path d="M41,404.5 L35,399.5 M41,404.5 L48,403.5 M41,404.5 L45,410.5" fill="none"/><circle cx="41" cy="404.5" r="1.8"/><circle cx="35" cy="399.5" r="1"/><circle cx="48" cy="403.5" r="1"/><circle cx="45" cy="410.5" r="1"/></g><g fill="#1a1a1a" stroke="#1a1a1a" stroke-width=".5"><ellipse cx="21" cy="409.5" rx="2.3" ry="1.7"/><path d="M17.5,407.0 L24.5,412.0 M17.5,412.0 L24.5,407.0 M17,409.5 H25" fill="none"/></g><polygon points="49.5,425.2 48.0,426.1 46.5,425.2 46.5,423.5 48.0,422.7 49.5,423.5" fill="#fff" stroke="#222" stroke-width=".5"/><polygon points="52.5,425.2 51.0,426.1 49.5,425.2 49.5,423.5 51.0,422.7 52.5,423.5" fill="#f5c518" stroke="#222" stroke-width=".5"/><polygon points="55.5,425.2 54.0,426.1 52.5,425.2 52.5,423.5 54.0,422.7 55.5,423.5" fill="#fff" stroke="#222" stroke-width=".5"/><polygon points="51.0,427.9 49.5,428.7 48.0,427.9 48.0,426.1 49.5,425.3 51.0,426.1" fill="#f09a1a" stroke="#222" stroke-width=".5"/><polygon points="54.0,427.9 52.5,428.7 51.0,427.9 51.0,426.1 52.5,425.3 54.0,426.1" fill="#f5c518" stroke="#222" stroke-width=".5"/><polygon points="49.5,430.5 48.0,431.3 46.5,430.5 46.5,428.8 48.0,427.9 49.5,428.8" fill="#fff" stroke="#222" stroke-width=".5"/><polygon points="52.5,430.5 51.0,431.3 49.5,430.5 49.5,428.8 51.0,427.9 52.5,428.8" fill="#f5c518" stroke="#222" stroke-width=".5"/><g fill="#5a1022" stroke="#5a1022" stroke-width=".5"><ellipse cx="52.6" cy="450.5" rx="2.3" ry="1.7"/><path d="M49.1,448.0 L56.1,453.0 M49.1,453.0 L56.1,448.0 M48.6,450.5 H56.6" fill="none"/></g><polygon points="36.9,459.3 34.0,460.9 31.1,459.3 31.1,456.0 34.0,454.3 36.9,456.0" fill="#c9399c"/><polygon points="33.9,454.1 31.0,455.8 28.2,454.1 28.2,450.8 31.0,449.2 33.9,450.8" fill="#c9399c"/><polygon points="39.8,454.1 37.0,455.8 34.1,454.1 34.1,450.8 37.0,449.2 39.8,450.8" fill="#c9399c"/><circle cx="18.7" cy="452.5" r="2.3" fill="#6fc3e8"/><circle cx="8.5" cy="483.2" r="1.8" fill="#3aa6df"/><circle cx="6.8" cy="480.3" r="1.8" fill="#3aa6df"/><circle cx="10.2" cy="480.3" r="1.8" fill="#3aa6df"/><g fill="#1a1a1a" stroke="#1a1a1a" stroke-width=".5"><ellipse cx="28" cy="501.0" rx="2.3" ry="1.7"/><path d="M24.5,498.5 L31.5,503.5 M24.5,503.5 L31.5,498.5 M24,501.0 H32" fill="none"/></g><circle cx="14" cy="530.5" r=".8" fill="#f2b33a"/><circle cx="17" cy="533.5" r=".8" fill="#f2b33a"/><circle cx="20" cy="530.5" r=".8" fill="#f2b33a"/><circle cx="23" cy="534.5" r=".8" fill="#f2b33a"/><circle cx="12" cy="535.5" r=".8" fill="#f2b33a"/><circle cx="26" cy="530.5" r=".8" fill="#f2b33a"/><circle cx="49.0" cy="280.8" r="1.7" fill="#e8e337"/><circle cx="47.4" cy="278.1" r="1.7" fill="#e8e337"/><circle cx="50.6" cy="278.1" r="1.7" fill="#e8e337"/><circle cx="85.0" cy="456.0" r="1.7" fill="#6cc04a"/><circle cx="83.4" cy="453.3" r="1.7" fill="#6cc04a"/><circle cx="86.6" cy="453.3" r="1.7" fill="#6cc04a"/><circle cx="70.0" cy="484.3" r="1.2" fill="#d8e23a"/><circle cx="68.9" cy="482.3" r="1.2" fill="#d8e23a"/><circle cx="71.1" cy="482.3" r="1.2" fill="#d8e23a"/><g stroke="#6fb6e0" stroke-width=".5" fill="none" opacity=".8"><path d="M81,518.5 l-4,-4 M81,518.5 l5,-2 M81,518.5 l0,6"/></g><path d="M5,428.5 q3,-4 6,0 t6,0" stroke="#f29aa0" stroke-width=".8" fill="none"/></g>
<g transform="translate(1000,0) scale(-1,1)"><path d="M33.3,3.0 H42.5 M30.4,8.8 H45.2 M26.9,14.6 H48.5 M24.7,20.4 H50.5 M24.0,26.2 H51.0 M25.0,32.0 H49.8 M27.4,37.8 H47.1 M31.1,43.6 H43.2 M34.4,55.2 H39.4 M31.8,61.0 H41.9 M28.0,66.8 H45.4 M24.3,72.6 H48.9 M20.8,78.4 H52.1 M17.6,84.2 H55.1 M14.7,90.0 H57.8 M12.1,95.8 H60.1 M9.9,101.6 H62.1 M8.1,107.4 H63.6 M6.8,113.2 H64.7 M6.2,119.0 H65.2 M5.6,124.8 H65.5 M25.0,443.8 H43.9 M22.2,449.6 H47.2 M21.0,455.4 H48.9 M21.7,461.2 H48.6 M24.2,467.0 H46.6 M26.8,472.8 H44.3 M31.6,478.6 H40.0 M31.5,490.2 H40.5 M28.4,496.0 H43.6" stroke="#9fbccb" stroke-width=".6" opacity=".6" fill="none"/>
<path d="M5.5,130.6 H65.3 M5.9,136.4 H64.7 M6.8,142.2 H63.6 M8.1,148.0 H62.0 M12.0,159.6 H57.6 M14.5,165.4 H54.9 M17.4,171.2 H51.8 M20.5,177.0 H48.4 M22.7,182.8 H46.1 M29.7,194.4 H38.6 M29.0,206.0 H39.2 M23.2,211.8 H45.3 M17.8,217.6 H51.0 M8.8,229.2 H60.6 M5.5,235.0 H64.2 M3.9,240.8 H66.0 M2.2,246.6 H67.9 M1.7,252.4 H68.7 M4.1,264.0 H67.0 M6.8,269.8 H64.5 M10.6,275.6 H61.1 M15.1,281.4 H56.8 M20.4,287.2 H51.8 M30.3,298.8 H42.5 M32.1,310.4 H40.6 M27.8,316.2 H44.7 M23.7,322.0 H48.5 M16.4,333.6 H55.4 M13.4,339.4 H58.2 M10.8,345.2 H60.6 M8.8,351.0 H62.4 M7.7,356.8 H63.2 M6.2,368.4 H64.2 M6.4,374.2 H63.8 M7.3,380.0 H62.8 M8.7,385.8 H61.1 M10.7,391.6 H58.9 M16.1,403.2 H52.9 M19.5,409.0 H49.3 M22.0,414.8 H46.8 M25.8,420.6 H42.7 M29.9,426.4 H38.4 M29.2,438.0 H39.3" stroke="#6f8796" stroke-width=".55" opacity=".5" fill="none"/>
<path d="M9.8,153.8 H60.0 M26.1,188.6 H42.4 M12.9,223.4 H56.2 M2.4,258.2 H68.4 M26.2,293.0 H46.3 M19.9,327.8 H52.1 M6.7,362.6 H64.1 M13.2,397.4 H56.2" stroke="#4f6676" stroke-width=".8" opacity=".7" fill="none"/>
<path d="M-2,-4 C0,22 18,38 37,52 C52,40 68,24 68,-4" stroke="#e8f6fb" stroke-width="1" fill="none" opacity=".9"/>
<path d="M3.6,16 H65" stroke="#d8eef6" stroke-width=".7" opacity=".8"/>
<path d="M37.0,52.0 L38.4,54.0 L39.8,56.0 L41.1,58.0 L42.3,60.0 L43.5,62.0 L44.5,64.0 L45.3,66.0 L46.0,68.0 L46.5,70.0 L46.9,72.0 L47.0,74.0 L47.0,76.0 L46.7,78.0 L46.3,80.0 L45.7,82.0 L45.0,84.0 L44.1,86.0 L43.1,88.0 L42.0,90.0 L40.8,92.0 L39.6,94.0 L38.0,96.0 L36.0,98.0 L34.2,100.0 L32.4,102.0 L30.8,104.0 L29.4,106.0 L28.2,108.0 L27.4,110.0 L26.8,112.0 L26.5,114.0 L26.6,116.0 L26.9,118.0 L27.6,120.0 L28.6,122.0 L29.8,124.0 L31.3,126.0 L33.0,128.0 L34.9,130.0 L36.9,132.0 L39.0,134.0 L40.9,136.0 L42.8,138.0 L44.6,140.0 L46.3,142.0 L47.8,144.0 L49.1,146.0 L50.1,148.0 L50.9,150.0 L51.4,152.0 L51.5,154.0 L51.4,156.0 L50.9,158.0 L50.1,160.0 L49.1,162.0 L47.7,164.0 L46.1,166.0 L44.3,168.0 L42.3,170.0 L40.3,172.0 L38.1,174.0 L36.2,176.0 L34.5,178.0 L32.9,180.0 L31.4,182.0 L29.9,184.0 L28.5,186.0 L27.1,188.0 L26.0,190.0 L24.9,192.0 L24.0,194.0 L23.3,196.0 L22.7,198.0 L22.3,200.0 L22.1,202.0 L22.0,204.0 L22.1,206.0 L22.5,208.0 L23.0,210.0 L23.6,212.0 L24.4,214.0 L25.4,216.0 L26.5,218.0 L27.8,220.0 L29.1,222.0 L30.6,224.0 L32.1,226.0 L33.7,228.0 L35.3,230.0 L37.0,232.0 L38.7,234.0 L40.3,236.0 L42.0,238.0 L43.5,240.0 L45.0,242.0 L46.5,244.0 L47.8,246.0 L49.0,248.0 L50.1,250.0 L51.0,252.0 L51.9,254.0 L52.5,256.0 L53.0,258.0 L53.3,260.0 L53.5,262.0 L53.5,264.0 L53.3,266.0 L53.0,268.0 L52.4,270.0 L51.8,272.0 L51.0,274.0 L50.0,276.0 L48.9,278.0 L47.7,280.0 L46.4,282.0 L45.0,284.0 L43.5,286.0 L42.0,288.0 L40.4,290.0 L38.8,292.0 L37.1,294.0 L35.3,296.0 L33.5,298.0 L31.8,300.0 L30.2,302.0 L28.7,304.0 L27.4,306.0 L26.2,308.0 L25.2,310.0 L24.3,312.0 L23.7,314.0 L23.2,316.0 L23.0,318.0 L23.0,320.0 L23.2,322.0 L23.7,324.0 L24.3,326.0 L25.2,328.0 L26.2,330.0 L27.4,332.0 L28.7,334.0 L30.2,336.0 L31.8,338.0 L33.5,340.0 L35.3,342.0 L37.1,344.0 L38.8,346.0 L40.4,348.0 L42.0,350.0 L43.5,352.0 L44.9,354.0 L46.3,356.0 L47.5,358.0 L48.6,360.0 L49.5,362.0 L50.3,364.0 L50.9,366.0 L51.3,368.0 L51.5,370.0 L51.5,372.0 L51.3,374.0 L50.9,376.0 L50.4,378.0 L49.6,380.0 L48.7,382.0 L47.6,384.0 L46.4,386.0 L45.0,388.0 L43.5,390.0 L42.0,392.0 L40.4,394.0 L38.7,396.0 L37.0,398.0 L35.8,400.0 L34.5,402.0 L33.4,404.0 L32.2,406.0 L31.2,408.0 L30.3,410.0 L29.5,412.0 L28.8,414.0 L28.2,416.0 L27.8,418.0 L27.6,420.0 L27.5,422.0 L27.6,424.0 L27.8,426.0 L28.2,428.0 L28.7,430.0 L29.4,432.0 L30.2,434.0 L31.1,436.0 L32.1,438.0 L33.2,440.0 L34.3,442.0 L35.4,444.0" stroke="#5d7282" stroke-width=".55" fill="none" opacity=".75"/>
<path d="M37.0,52.0 L35.8,54.0 L34.6,56.0 L33.5,58.0 L32.4,60.0 L31.5,62.0 L30.6,64.0 L30.0,66.0 L29.5,68.0 L29.1,70.0 L29.0,72.0 L29.0,74.0 L29.3,76.0 L29.7,78.0 L30.3,80.0 L31.1,82.0 L32.0,84.0 L33.1,86.0 L34.3,88.0 L35.6,90.0 L36.9,92.0 L38.3,94.0 L40.0,96.0 L42.1,98.0 L44.1,100.0 L46.0,102.0 L47.7,104.0 L49.2,106.0 L50.4,108.0 L51.4,110.0 L52.1,112.0 L52.4,114.0 L52.5,116.0 L52.2,118.0 L51.6,120.0 L50.8,122.0 L49.6,124.0 L48.2,126.0 L46.6,128.0 L44.8,130.0 L43.0,132.0 L41.0,134.0 L38.9,136.0 L36.7,138.0 L34.7,140.0 L32.7,142.0 L30.9,144.0 L29.3,146.0 L27.9,148.0 L26.9,150.0 L26.1,152.0 L25.6,154.0 L25.5,156.0 L25.6,158.0 L26.1,160.0 L26.9,162.0 L27.9,164.0 L29.2,166.0 L30.7,168.0 L32.4,170.0 L34.2,172.0 L36.1,174.0 L37.8,176.0 L39.5,178.0 L41.1,180.0 L42.6,182.0 L44.1,184.0 L45.5,186.0 L46.9,188.0 L48.0,190.0 L49.1,192.0 L50.0,194.0 L50.7,196.0 L51.3,198.0 L51.7,200.0 L51.9,202.0 L52.0,204.0 L51.9,206.0 L51.5,208.0 L51.0,210.0 L50.4,212.0 L49.6,214.0 L48.6,216.0 L47.5,218.0 L46.2,220.0 L44.9,222.0 L43.4,224.0 L41.9,226.0 L40.3,228.0 L38.7,230.0 L37.0,232.0 L35.4,234.0 L33.8,236.0 L32.2,238.0 L30.7,240.0 L29.3,242.0 L27.9,244.0 L26.7,246.0 L25.5,248.0 L24.5,250.0 L23.6,252.0 L22.9,254.0 L22.3,256.0 L21.9,258.0 L21.6,260.0 L21.5,262.0 L21.6,264.0 L21.8,266.0 L22.2,268.0 L22.8,270.0 L23.5,272.0 L24.4,274.0 L25.4,276.0 L26.6,278.0 L27.9,280.0 L29.2,282.0 L30.7,284.0 L32.2,286.0 L33.8,288.0 L35.5,290.0 L37.2,292.0 L38.9,294.0 L40.7,296.0 L42.5,298.0 L44.2,300.0 L45.8,302.0 L47.3,304.0 L48.6,306.0 L49.8,308.0 L50.8,310.0 L51.7,312.0 L52.3,314.0 L52.8,316.0 L53.0,318.0 L53.0,320.0 L52.8,322.0 L52.3,324.0 L51.7,326.0 L50.8,328.0 L49.8,330.0 L48.6,332.0 L47.3,334.0 L45.8,336.0 L44.2,338.0 L42.5,340.0 L40.7,342.0 L38.9,344.0 L37.2,346.0 L35.5,348.0 L33.8,350.0 L32.2,352.0 L30.7,354.0 L29.3,356.0 L28.0,358.0 L26.8,360.0 L25.8,362.0 L25.0,364.0 L24.3,366.0 L23.9,368.0 L23.6,370.0 L23.5,372.0 L23.6,374.0 L23.9,376.0 L24.4,378.0 L25.1,380.0 L25.9,382.0 L26.9,384.0 L28.1,386.0 L29.4,388.0 L30.8,390.0 L32.2,392.0 L33.8,394.0 L35.4,396.0 L37.0,398.0 L38.2,400.0 L39.3,402.0 L40.4,404.0 L41.4,406.0 L42.4,408.0 L43.2,410.0 L43.9,412.0 L44.6,414.0 L45.0,416.0 L45.3,418.0 L45.5,420.0 L45.5,422.0 L45.3,424.0 L45.0,426.0 L44.5,428.0 L43.9,430.0 L43.1,432.0 L42.3,434.0 L41.3,436.0 L40.2,438.0 L39.1,440.0 L37.9,442.0 L36.6,444.0" stroke="#5d7282" stroke-width=".55" fill="none" opacity=".75"/>
<path d="M39.5,0.0 L41.0,2.0 L42.5,4.0 L43.9,6.0 L45.2,8.0 L46.5,10.0 L47.6,12.0" stroke="#33495a" stroke-width="0.70" opacity="0.33" fill="none" stroke-linecap="round"/><path d="M47.6,12.0 L48.5,14.0 L49.4,16.0 L50.0,18.0 L50.5,20.0 L50.9,22.0 L51.0,24.0" stroke="#33495a" stroke-width="0.70" opacity="0.33" fill="none" stroke-linecap="round"/><path d="M51.0,24.0 L51.0,26.0 L50.7,28.0 L50.3,30.0 L49.8,32.0 L49.0,34.0 L48.1,36.0" stroke="#33495a" stroke-width="0.70" opacity="0.33" fill="none" stroke-linecap="round"/><path d="M48.1,36.0 L47.1,38.0 L45.9,40.0 L44.6,42.0 L43.2,44.0 L41.7,46.0 L40.2,48.0" stroke="#33495a" stroke-width="0.70" opacity="0.33" fill="none" stroke-linecap="round"/><path d="M40.2,48.0 L38.6,50.0 L37.0,52.0 L35.7,54.0 L34.4,56.0 L33.1,58.0 L31.8,60.0" stroke="#33495a" stroke-width="0.70" opacity="0.33" fill="none" stroke-linecap="round"/><path d="M31.8,60.0 L30.5,62.0 L29.2,64.0 L28.0,66.0 L26.7,68.0 L25.5,70.0 L24.3,72.0" stroke="#33495a" stroke-width="0.70" opacity="0.33" fill="none" stroke-linecap="round"/><path d="M24.3,72.0 L23.1,74.0 L22.0,76.0 L20.8,78.0 L19.7,80.0 L18.7,82.0 L17.6,84.0" stroke="#33495a" stroke-width="0.70" opacity="0.38" fill="none" stroke-linecap="round"/><path d="M17.6,84.0 L16.6,86.0 L15.6,88.0 L14.7,90.0 L13.8,92.0 L12.9,94.0 L12.1,96.0" stroke="#33495a" stroke-width="0.70" opacity="0.45" fill="none" stroke-linecap="round"/><path d="M12.1,96.0 L11.3,98.0 L10.6,100.0 L9.9,102.0 L9.3,104.0 L8.7,106.0 L8.1,108.0" stroke="#33495a" stroke-width="0.71" opacity="0.52" fill="none" stroke-linecap="round"/><path d="M8.1,108.0 L7.6,110.0 L7.2,112.0 L6.8,114.0 L6.4,116.0 L6.2,118.0 L5.9,120.0" stroke="#33495a" stroke-width="0.76" opacity="0.59" fill="none" stroke-linecap="round"/><path d="M5.9,120.0 L5.7,122.0 L5.6,124.0 L5.5,126.0 L5.5,128.0 L5.5,130.0 L5.6,132.0" stroke="#33495a" stroke-width="0.81" opacity="0.66" fill="none" stroke-linecap="round"/><path d="M5.6,132.0 L5.7,134.0 L5.9,136.0 L6.1,138.0 L6.4,140.0 L6.8,142.0 L7.2,144.0" stroke="#33495a" stroke-width="0.86" opacity="0.73" fill="none" stroke-linecap="round"/><path d="M7.2,144.0 L7.6,146.0 L8.1,148.0 L8.6,150.0 L9.2,152.0 L9.8,154.0 L10.5,156.0" stroke="#33495a" stroke-width="0.91" opacity="0.80" fill="none" stroke-linecap="round"/><path d="M10.5,156.0 L11.2,158.0 L12.0,160.0 L12.8,162.0 L13.6,164.0 L14.5,166.0 L15.4,168.0" stroke="#33495a" stroke-width="0.97" opacity="0.87" fill="none" stroke-linecap="round"/><path d="M15.4,168.0 L16.4,170.0 L17.4,172.0 L18.4,174.0 L19.4,176.0 L20.5,178.0 L21.6,180.0" stroke="#33495a" stroke-width="1.00" opacity="0.94" fill="none" stroke-linecap="round"/><path d="M21.6,180.0 L22.7,182.0 L23.8,184.0 L25.0,186.0 L26.1,188.0 L27.3,190.0 L28.5,192.0" stroke="#33495a" stroke-width="1.00" opacity="1.00" fill="none" stroke-linecap="round"/><path d="M28.5,192.0 L29.7,194.0 L30.9,196.0 L32.2,198.0 L33.4,200.0 L35.0,202.0 L37.1,204.0" stroke="#33495a" stroke-width="1.00" opacity="1.00" fill="none" stroke-linecap="round"/><path d="M37.1,204.0 L39.2,206.0 L41.3,208.0 L43.3,210.0 L45.3,212.0 L47.3,214.0 L49.2,216.0" stroke="#33495a" stroke-width="1.00" opacity="1.00" fill="none" stroke-linecap="round"/><path d="M49.2,216.0 L51.0,218.0 L52.8,220.0 L54.5,222.0 L56.2,224.0 L57.7,226.0 L59.2,228.0" stroke="#33495a" stroke-width="1.00" opacity="1.00" fill="none" stroke-linecap="round"/><path d="M59.2,228.0 L60.6,230.0 L61.9,232.0 L63.1,234.0 L64.2,236.0 L65.2,238.0 L66.0,240.0" stroke="#33495a" stroke-width="1.00" opacity="1.00" fill="none" stroke-linecap="round"/><path d="M66.0,240.0 L66.8,242.0 L67.4,244.0 L67.9,246.0 L68.3,248.0 L68.6,250.0 L68.7,252.0" stroke="#33495a" stroke-width="1.00" opacity="1.00" fill="none" stroke-linecap="round"/><path d="M68.7,252.0 L68.8,254.0 L68.6,256.0 L68.4,258.0 L68.1,260.0 L67.6,262.0 L67.0,264.0" stroke="#33495a" stroke-width="1.00" opacity="1.00" fill="none" stroke-linecap="round"/><path d="M67.0,264.0 L66.3,266.0 L65.5,268.0 L64.5,270.0 L63.5,272.0 L62.3,274.0 L61.1,276.0" stroke="#33495a" stroke-width="1.00" opacity="1.00" fill="none" stroke-linecap="round"/><path d="M61.1,276.0 L59.7,278.0 L58.3,280.0 L56.8,282.0 L55.2,284.0 L53.5,286.0 L51.8,288.0" stroke="#33495a" stroke-width="1.00" opacity="1.00" fill="none" stroke-linecap="round"/><path d="M51.8,288.0 L50.0,290.0 L48.2,292.0 L46.3,294.0 L44.4,296.0 L42.5,298.0 L40.5,300.0" stroke="#33495a" stroke-width="1.00" opacity="1.00" fill="none" stroke-linecap="round"/><path d="M40.5,300.0 L38.5,302.0 L36.5,304.0 L35.0,306.0 L33.6,308.0 L32.1,310.0 L30.7,312.0" stroke="#33495a" stroke-width="1.00" opacity="1.00" fill="none" stroke-linecap="round"/><path d="M30.7,312.0 L29.3,314.0 L27.8,316.0 L26.5,318.0 L25.1,320.0 L23.7,322.0 L22.4,324.0" stroke="#33495a" stroke-width="1.00" opacity="1.00" fill="none" stroke-linecap="round"/><path d="M22.4,324.0 L21.2,326.0 L19.9,328.0 L18.7,330.0 L17.6,332.0 L16.4,334.0 L15.4,336.0" stroke="#33495a" stroke-width="1.00" opacity="1.00" fill="none" stroke-linecap="round"/><path d="M15.4,336.0 L14.3,338.0 L13.4,340.0 L12.5,342.0 L11.6,344.0 L10.8,346.0 L10.1,348.0" stroke="#33495a" stroke-width="1.00" opacity="1.00" fill="none" stroke-linecap="round"/><path d="M10.1,348.0 L9.4,350.0 L8.8,352.0 L8.2,354.0 L7.7,356.0 L7.3,358.0 L7.0,360.0" stroke="#33495a" stroke-width="1.00" opacity="1.00" fill="none" stroke-linecap="round"/><path d="M7.0,360.0 L6.7,362.0 L6.5,364.0 L6.3,366.0 L6.2,368.0 L6.2,370.0 L6.3,372.0" stroke="#33495a" stroke-width="1.00" opacity="1.00" fill="none" stroke-linecap="round"/><path d="M6.3,372.0 L6.4,374.0 L6.7,376.0 L6.9,378.0 L7.3,380.0 L7.7,382.0 L8.1,384.0" stroke="#33495a" stroke-width="1.00" opacity="1.00" fill="none" stroke-linecap="round"/><path d="M8.1,384.0 L8.7,386.0 L9.3,388.0 L9.9,390.0 L10.7,392.0 L11.4,394.0 L12.3,396.0" stroke="#33495a" stroke-width="0.96" opacity="0.93" fill="none" stroke-linecap="round"/><path d="M12.3,396.0 L13.2,398.0 L14.1,400.0 L15.1,402.0 L16.1,404.0 L17.2,406.0 L18.4,408.0" stroke="#33495a" stroke-width="0.91" opacity="0.85" fill="none" stroke-linecap="round"/><path d="M18.4,408.0 L19.5,410.0 L20.7,412.0 L22.0,414.0 L23.2,416.0 L24.5,418.0 L25.8,420.0" stroke="#33495a" stroke-width="0.85" opacity="0.77" fill="none" stroke-linecap="round"/><path d="M25.8,420.0 L27.1,422.0 L28.5,424.0 L29.9,426.0 L31.2,428.0 L32.6,430.0 L34.0,432.0" stroke="#33495a" stroke-width="0.80" opacity="0.69" fill="none" stroke-linecap="round"/><path d="M34.0,432.0 L35.8,434.0 L37.6,436.0 L39.3,438.0 L40.9,440.0 L42.5,442.0 L43.9,444.0" stroke="#33495a" stroke-width="0.75" opacity="0.61" fill="none" stroke-linecap="round"/><path d="M43.9,444.0 L45.2,446.0 L46.3,448.0 L47.2,450.0 L48.0,452.0 L48.5,454.0 L48.9,456.0" stroke="#33495a" stroke-width="0.70" opacity="0.53" fill="none" stroke-linecap="round"/><path d="M48.9,456.0 L49.0,458.0 L48.9,460.0 L48.6,462.0 L48.1,464.0 L47.5,466.0 L46.6,468.0" stroke="#33495a" stroke-width="0.70" opacity="0.45" fill="none" stroke-linecap="round"/><path d="M46.6,468.0 L45.5,470.0 L44.3,472.0 L43.0,474.0 L41.6,476.0 L40.0,478.0 L38.5,480.0" stroke="#33495a" stroke-width="0.70" opacity="0.37" fill="none" stroke-linecap="round"/><path d="M38.5,480.0 L36.8,482.0 L35.3,484.0 L34.0,486.0 L32.7,488.0 L31.5,490.0 L30.3,492.0" stroke="#33495a" stroke-width="0.70" opacity="0.33" fill="none" stroke-linecap="round"/><path d="M30.3,492.0 L29.3,494.0 L28.4,496.0 L27.6,498.0 L26.9,500.0" stroke="#33495a" stroke-width="0.70" opacity="0.33" fill="none" stroke-linecap="round"/>
<path d="M36.4,0.0 L34.8,2.0 L33.3,4.0 L31.8,6.0 L30.4,8.0 L29.1,10.0 L27.9,12.0" stroke="#33495a" stroke-width="0.70" opacity="0.33" fill="none" stroke-linecap="round"/><path d="M27.9,12.0 L26.9,14.0 L26.0,16.0 L25.2,18.0 L24.7,20.0 L24.3,22.0 L24.0,24.0" stroke="#33495a" stroke-width="0.70" opacity="0.33" fill="none" stroke-linecap="round"/><path d="M24.0,24.0 L24.0,26.0 L24.1,28.0 L24.5,30.0 L25.0,32.0 L25.6,34.0 L26.5,36.0" stroke="#33495a" stroke-width="0.70" opacity="0.33" fill="none" stroke-linecap="round"/><path d="M26.5,36.0 L27.4,38.0 L28.5,40.0 L29.8,42.0 L31.1,44.0 L32.5,46.0 L34.0,48.0" stroke="#33495a" stroke-width="0.70" opacity="0.33" fill="none" stroke-linecap="round"/><path d="M34.0,48.0 L35.5,50.0 L37.0,52.0 L38.2,54.0 L39.4,56.0 L40.7,58.0 L41.9,60.0" stroke="#33495a" stroke-width="0.70" opacity="0.33" fill="none" stroke-linecap="round"/><path d="M41.9,60.0 L43.1,62.0 L44.3,64.0 L45.4,66.0 L46.6,68.0 L47.8,70.0 L48.9,72.0" stroke="#33495a" stroke-width="0.70" opacity="0.33" fill="none" stroke-linecap="round"/><path d="M48.9,72.0 L50.0,74.0 L51.1,76.0 L52.1,78.0 L53.1,80.0 L54.1,82.0 L55.1,84.0" stroke="#33495a" stroke-width="0.70" opacity="0.38" fill="none" stroke-linecap="round"/><path d="M55.1,84.0 L56.0,86.0 L56.9,88.0 L57.8,90.0 L58.6,92.0 L59.4,94.0 L60.1,96.0" stroke="#33495a" stroke-width="0.70" opacity="0.45" fill="none" stroke-linecap="round"/><path d="M60.1,96.0 L60.8,98.0 L61.5,100.0 L62.1,102.0 L62.6,104.0 L63.2,106.0 L63.6,108.0" stroke="#33495a" stroke-width="0.70" opacity="0.52" fill="none" stroke-linecap="round"/><path d="M63.6,108.0 L64.0,110.0 L64.4,112.0 L64.7,114.0 L65.0,116.0 L65.2,118.0 L65.3,120.0" stroke="#33495a" stroke-width="0.78" opacity="0.59" fill="none" stroke-linecap="round"/><path d="M65.3,120.0 L65.5,122.0 L65.5,124.0 L65.5,126.0 L65.5,128.0 L65.3,130.0 L65.2,132.0" stroke="#33495a" stroke-width="1.02" opacity="0.66" fill="none" stroke-linecap="round"/><path d="M65.2,132.0 L65.0,134.0 L64.7,136.0 L64.4,138.0 L64.0,140.0 L63.6,142.0 L63.1,144.0" stroke="#33495a" stroke-width="1.26" opacity="0.73" fill="none" stroke-linecap="round"/><path d="M63.1,144.0 L62.6,146.0 L62.0,148.0 L61.4,150.0 L60.8,152.0 L60.0,154.0 L59.3,156.0" stroke="#33495a" stroke-width="1.50" opacity="0.80" fill="none" stroke-linecap="round"/><path d="M59.3,156.0 L58.5,158.0 L57.6,160.0 L56.8,162.0 L55.8,164.0 L54.9,166.0 L53.9,168.0" stroke="#33495a" stroke-width="1.74" opacity="0.87" fill="none" stroke-linecap="round"/><path d="M53.9,168.0 L52.9,170.0 L51.8,172.0 L50.7,174.0 L49.6,176.0 L48.4,178.0 L47.3,180.0" stroke="#33495a" stroke-width="1.90" opacity="0.94" fill="none" stroke-linecap="round"/><path d="M47.3,180.0 L46.1,182.0 L44.9,184.0 L43.6,186.0 L42.4,188.0 L41.1,190.0 L39.8,192.0" stroke="#33495a" stroke-width="1.90" opacity="1.00" fill="none" stroke-linecap="round"/><path d="M39.8,192.0 L38.6,194.0 L37.3,196.0 L36.0,198.0 L34.7,200.0 L33.0,202.0 L31.0,204.0" stroke="#33495a" stroke-width="1.90" opacity="1.00" fill="none" stroke-linecap="round"/><path d="M31.0,204.0 L29.0,206.0 L27.1,208.0 L25.1,210.0 L23.2,212.0 L21.4,214.0 L19.6,216.0" stroke="#33495a" stroke-width="1.90" opacity="1.00" fill="none" stroke-linecap="round"/><path d="M19.6,216.0 L17.8,218.0 L16.1,220.0 L14.5,222.0 L12.9,224.0 L11.5,226.0 L10.1,228.0" stroke="#33495a" stroke-width="1.90" opacity="1.00" fill="none" stroke-linecap="round"/><path d="M10.1,228.0 L8.8,230.0 L7.6,232.0 L6.5,234.0 L5.5,236.0 L4.6,238.0 L3.9,240.0" stroke="#33495a" stroke-width="1.90" opacity="1.00" fill="none" stroke-linecap="round"/><path d="M3.9,240.0 L3.2,242.0 L2.7,244.0 L2.2,246.0 L2.0,248.0 L1.8,250.0 L1.7,252.0" stroke="#33495a" stroke-width="1.90" opacity="1.00" fill="none" stroke-linecap="round"/><path d="M1.7,252.0 L1.8,254.0 L2.0,256.0 L2.4,258.0 L2.8,260.0 L3.4,262.0 L4.1,264.0" stroke="#33495a" stroke-width="1.90" opacity="1.00" fill="none" stroke-linecap="round"/><path d="M4.1,264.0 L4.9,266.0 L5.8,268.0 L6.8,270.0 L8.0,272.0 L9.2,274.0 L10.6,276.0" stroke="#33495a" stroke-width="1.90" opacity="1.00" fill="none" stroke-linecap="round"/><path d="M10.6,276.0 L12.0,278.0 L13.5,280.0 L15.1,282.0 L16.8,284.0 L18.6,286.0 L20.4,288.0" stroke="#33495a" stroke-width="1.90" opacity="1.00" fill="none" stroke-linecap="round"/><path d="M20.4,288.0 L22.3,290.0 L24.2,292.0 L26.2,294.0 L28.2,296.0 L30.3,298.0 L32.3,300.0" stroke="#33495a" stroke-width="1.90" opacity="1.00" fill="none" stroke-linecap="round"/><path d="M32.3,300.0 L34.4,302.0 L36.5,304.0 L37.9,306.0 L39.3,308.0 L40.6,310.0 L42.0,312.0" stroke="#33495a" stroke-width="1.90" opacity="1.00" fill="none" stroke-linecap="round"/><path d="M42.0,312.0 L43.4,314.0 L44.7,316.0 L46.0,318.0 L47.3,320.0 L48.5,322.0 L49.8,324.0" stroke="#33495a" stroke-width="1.90" opacity="1.00" fill="none" stroke-linecap="round"/><path d="M49.8,324.0 L51.0,326.0 L52.1,328.0 L53.3,330.0 L54.4,332.0 L55.4,334.0 L56.4,336.0" stroke="#33495a" stroke-width="1.90" opacity="1.00" fill="none" stroke-linecap="round"/><path d="M56.4,336.0 L57.3,338.0 L58.2,340.0 L59.1,342.0 L59.8,344.0 L60.6,346.0 L61.2,348.0" stroke="#33495a" stroke-width="1.90" opacity="1.00" fill="none" stroke-linecap="round"/><path d="M61.2,348.0 L61.8,350.0 L62.4,352.0 L62.8,354.0 L63.2,356.0 L63.6,358.0 L63.8,360.0" stroke="#33495a" stroke-width="1.90" opacity="1.00" fill="none" stroke-linecap="round"/><path d="M63.8,360.0 L64.1,362.0 L64.2,364.0 L64.3,366.0 L64.2,368.0 L64.2,370.0 L64.0,372.0" stroke="#33495a" stroke-width="1.90" opacity="1.00" fill="none" stroke-linecap="round"/><path d="M64.0,372.0 L63.8,374.0 L63.5,376.0 L63.2,378.0 L62.8,380.0 L62.3,382.0 L61.7,384.0" stroke="#33495a" stroke-width="1.90" opacity="1.00" fill="none" stroke-linecap="round"/><path d="M61.7,384.0 L61.1,386.0 L60.4,388.0 L59.7,390.0 L58.9,392.0 L58.0,394.0 L57.1,396.0" stroke="#33495a" stroke-width="1.70" opacity="0.93" fill="none" stroke-linecap="round"/><path d="M57.1,396.0 L56.2,398.0 L55.1,400.0 L54.1,402.0 L52.9,404.0 L51.8,406.0 L50.6,408.0" stroke="#33495a" stroke-width="1.46" opacity="0.85" fill="none" stroke-linecap="round"/><path d="M50.6,408.0 L49.3,410.0 L48.1,412.0 L46.8,414.0 L45.4,416.0 L44.0,418.0 L42.7,420.0" stroke="#33495a" stroke-width="1.22" opacity="0.77" fill="none" stroke-linecap="round"/><path d="M42.7,420.0 L41.2,422.0 L39.8,424.0 L38.4,426.0 L36.9,428.0 L35.5,430.0 L34.0,432.0" stroke="#33495a" stroke-width="0.98" opacity="0.69" fill="none" stroke-linecap="round"/><path d="M34.0,432.0 L32.4,434.0 L30.7,436.0 L29.2,438.0 L27.7,440.0 L26.3,442.0 L25.0,444.0" stroke="#33495a" stroke-width="0.74" opacity="0.61" fill="none" stroke-linecap="round"/><path d="M25.0,444.0 L23.9,446.0 L23.0,448.0 L22.2,450.0 L21.6,452.0 L21.2,454.0 L21.0,456.0" stroke="#33495a" stroke-width="0.70" opacity="0.53" fill="none" stroke-linecap="round"/><path d="M21.0,456.0 L21.0,458.0 L21.3,460.0 L21.7,462.0 L22.4,464.0 L23.2,466.0 L24.2,468.0" stroke="#33495a" stroke-width="0.70" opacity="0.45" fill="none" stroke-linecap="round"/><path d="M24.2,468.0 L25.4,470.0 L26.8,472.0 L28.3,474.0 L29.9,476.0 L31.6,478.0 L33.3,480.0" stroke="#33495a" stroke-width="0.70" opacity="0.37" fill="none" stroke-linecap="round"/><path d="M33.3,480.0 L35.1,482.0 L36.7,484.0 L38.0,486.0 L39.3,488.0 L40.5,490.0 L41.7,492.0" stroke="#33495a" stroke-width="0.70" opacity="0.33" fill="none" stroke-linecap="round"/><path d="M41.7,492.0 L42.7,494.0 L43.6,496.0 L44.4,498.0 L45.1,500.0" stroke="#33495a" stroke-width="0.70" opacity="0.33" fill="none" stroke-linecap="round"/>
<polygon points="45.5,15 52,8 52,15" fill="#e8e337"/><polygon points="20.9,36.6 18.0,38.2 15.1,36.6 15.1,33.3 18.0,31.6 20.9,33.3" fill="#c9399c"/><polygon points="17.9,31.4 15.0,33.1 12.2,31.4 12.2,28.1 15.0,26.5 17.9,28.1" fill="#c9399c"/><polygon points="23.8,31.4 21.0,33.1 18.1,31.4 18.1,28.1 21.0,26.5 23.8,28.1" fill="#c9399c"/><polygon points="52.6,58.5 50.3,62.5 45.7,62.5 43.4,58.5 45.7,54.5 50.3,54.5" fill="none" stroke="#1f3a5c" stroke-width="1.6"/><polygon points="3.0,67.2 1.5,68.1 0.0,67.2 0.0,65.6 1.5,64.7 3.0,65.6" fill="#fff" stroke="#222" stroke-width=".5"/><polygon points="6.0,67.2 4.5,68.1 3.0,67.2 3.0,65.6 4.5,64.7 6.0,65.6" fill="#f5c518" stroke="#222" stroke-width=".5"/><polygon points="9.0,67.2 7.5,68.1 6.0,67.2 6.0,65.6 7.5,64.7 9.0,65.6" fill="#fff" stroke="#222" stroke-width=".5"/><polygon points="4.5,69.8 3.0,70.7 1.5,69.8 1.5,68.2 3.0,67.3 4.5,68.2" fill="#f09a1a" stroke="#222" stroke-width=".5"/><polygon points="7.5,69.8 6.0,70.7 4.5,69.8 4.5,68.2 6.0,67.3 7.5,68.2" fill="#f5c518" stroke="#222" stroke-width=".5"/><polygon points="3.0,72.4 1.5,73.3 0.0,72.4 0.0,70.8 1.5,69.9 3.0,70.8" fill="#fff" stroke="#222" stroke-width=".5"/><polygon points="6.0,72.4 4.5,73.3 3.0,72.4 3.0,70.8 4.5,69.9 6.0,70.8" fill="#f5c518" stroke="#222" stroke-width=".5"/><circle cx="31" cy="75" r="1" fill="#e2b21c"/><circle cx="34.5" cy="78" r="1" fill="#e2b21c"/><circle cx="37" cy="81" r="1" fill="#e2b21c"/><circle cx="33" cy="80" r="1" fill="#e2b21c"/><polygon points="36.5,91.2 35.0,92.1 33.5,91.2 33.5,89.6 35.0,88.7 36.5,89.6" fill="#fff" stroke="#222" stroke-width=".5"/><polygon points="39.5,91.2 38.0,92.1 36.5,91.2 36.5,89.6 38.0,88.7 39.5,89.6" fill="#f5c518" stroke="#222" stroke-width=".5"/><polygon points="42.5,91.2 41.0,92.1 39.5,91.2 39.5,89.6 41.0,88.7 42.5,89.6" fill="#fff" stroke="#222" stroke-width=".5"/><polygon points="38.0,93.8 36.5,94.7 35.0,93.8 35.0,92.2 36.5,91.3 38.0,92.2" fill="#f09a1a" stroke="#222" stroke-width=".5"/><polygon points="41.0,93.8 39.5,94.7 38.0,93.8 38.0,92.2 39.5,91.3 41.0,92.2" fill="#f5c518" stroke="#222" stroke-width=".5"/><polygon points="36.5,96.4 35.0,97.3 33.5,96.4 33.5,94.8 35.0,93.9 36.5,94.8" fill="#fff" stroke="#222" stroke-width=".5"/><polygon points="39.5,96.4 38.0,97.3 36.5,96.4 36.5,94.8 38.0,93.9 39.5,94.8" fill="#f5c518" stroke="#222" stroke-width=".5"/><g fill="#1a1a1a" stroke="#1a1a1a" stroke-width=".5"><ellipse cx="19" cy="88" rx="2.3" ry="1.7"/><path d="M15.5,85.5 L22.5,90.5 M15.5,90.5 L22.5,85.5 M15,88 H23" fill="none"/></g><g stroke="#c9399c" stroke-width=".5" fill="#c9399c"><path d="M11,95 L5,90 M11,95 L18,94 M11,95 L15,101" fill="none"/><circle cx="11" cy="95" r="1.8"/><circle cx="5" cy="90" r="1"/><circle cx="18" cy="94" r="1"/><circle cx="15" cy="101" r="1"/></g><g fill="#1a1a1a" stroke="#1a1a1a" stroke-width=".5"><ellipse cx="3.5" cy="105" rx="2.3" ry="1.7"/><path d="M0.0,102.5 L7.0,107.5 M0.0,107.5 L7.0,102.5 M-0.5,105 H7.5" fill="none"/></g><g fill="#5a1022" stroke="#5a1022" stroke-width=".5"><ellipse cx="58" cy="104.6" rx="2.3" ry="1.7"/><path d="M54.5,102.1 L61.5,107.1 M54.5,107.1 L61.5,102.1 M54,104.6 H62" fill="none"/></g><polygon points="32.6,120.6 30.8,123.7 27.2,123.7 25.4,120.6 27.2,117.5 30.8,117.5" fill="none" stroke="#f0e530" stroke-width="1.5"/><polygon points="58.6,131.8 57.3,134.1 54.7,134.1 53.4,131.8 54.7,129.5 57.3,129.5" fill="none" stroke="#f0e530" stroke-width="1.3"/><g stroke="#c9399c" stroke-width=".5" fill="#c9399c"><path d="M41,136 L35,131 M41,136 L48,135 M41,136 L45,142" fill="none"/><circle cx="41" cy="136" r="1.8"/><circle cx="35" cy="131" r="1"/><circle cx="48" cy="135" r="1"/><circle cx="45" cy="142" r="1"/></g><g fill="#1a1a1a" stroke="#1a1a1a" stroke-width=".5"><ellipse cx="21" cy="141" rx="2.3" ry="1.7"/><path d="M17.5,138.5 L24.5,143.5 M17.5,143.5 L24.5,138.5 M17,141 H25" fill="none"/></g><polygon points="49.5,156.8 48.0,157.6 46.5,156.8 46.5,155.1 48.0,154.2 49.5,155.1" fill="#fff" stroke="#222" stroke-width=".5"/><polygon points="52.5,156.8 51.0,157.6 49.5,156.8 49.5,155.1 51.0,154.2 52.5,155.1" fill="#f5c518" stroke="#222" stroke-width=".5"/><polygon points="55.5,156.8 54.0,157.6 52.5,156.8 52.5,155.1 54.0,154.2 55.5,155.1" fill="#fff" stroke="#222" stroke-width=".5"/><polygon points="51.0,159.3 49.5,160.2 48.0,159.3 48.0,157.7 49.5,156.8 51.0,157.7" fill="#f09a1a" stroke="#222" stroke-width=".5"/><polygon points="54.0,159.3 52.5,160.2 51.0,159.3 51.0,157.7 52.5,156.8 54.0,157.7" fill="#f5c518" stroke="#222" stroke-width=".5"/><polygon points="49.5,161.9 48.0,162.8 46.5,161.9 46.5,160.2 48.0,159.4 49.5,160.2" fill="#fff" stroke="#222" stroke-width=".5"/><polygon points="52.5,161.9 51.0,162.8 49.5,161.9 49.5,160.2 51.0,159.4 52.5,160.2" fill="#f5c518" stroke="#222" stroke-width=".5"/><g fill="#5a1022" stroke="#5a1022" stroke-width=".5"><ellipse cx="52.6" cy="182" rx="2.3" ry="1.7"/><path d="M49.1,179.5 L56.1,184.5 M49.1,184.5 L56.1,179.5 M48.6,182 H56.6" fill="none"/></g><polygon points="36.9,190.8 34.0,192.4 31.1,190.8 31.1,187.5 34.0,185.8 36.9,187.5" fill="#c9399c"/><polygon points="33.9,185.6 31.0,187.3 28.2,185.6 28.2,182.3 31.0,180.7 33.9,182.3" fill="#c9399c"/><polygon points="39.8,185.6 37.0,187.3 34.1,185.6 34.1,182.3 37.0,180.7 39.8,182.3" fill="#c9399c"/><circle cx="18.7" cy="184" r="2.3" fill="#6fc3e8"/><circle cx="8.5" cy="214.7" r="1.8" fill="#3aa6df"/><circle cx="6.8" cy="211.8" r="1.8" fill="#3aa6df"/><circle cx="10.2" cy="211.8" r="1.8" fill="#3aa6df"/><g fill="#1a1a1a" stroke="#1a1a1a" stroke-width=".5"><ellipse cx="28" cy="232.5" rx="2.3" ry="1.7"/><path d="M24.5,230.0 L31.5,235.0 M24.5,235.0 L31.5,230.0 M24,232.5 H32" fill="none"/></g><circle cx="14" cy="262" r=".8" fill="#f2b33a"/><circle cx="17" cy="265" r=".8" fill="#f2b33a"/><circle cx="20" cy="262" r=".8" fill="#f2b33a"/><circle cx="23" cy="266" r=".8" fill="#f2b33a"/><circle cx="12" cy="267" r=".8" fill="#f2b33a"/><circle cx="26" cy="262" r=".8" fill="#f2b33a"/><circle cx="49.0" cy="280.8" r="1.7" fill="#e8e337"/><circle cx="47.4" cy="278.1" r="1.7" fill="#e8e337"/><circle cx="50.6" cy="278.1" r="1.7" fill="#e8e337"/><circle cx="85.0" cy="187.5" r="1.7" fill="#6cc04a"/><circle cx="83.4" cy="184.8" r="1.7" fill="#6cc04a"/><circle cx="86.6" cy="184.8" r="1.7" fill="#6cc04a"/><circle cx="70.0" cy="215.8" r="1.2" fill="#d8e23a"/><circle cx="68.9" cy="213.8" r="1.2" fill="#d8e23a"/><circle cx="71.1" cy="213.8" r="1.2" fill="#d8e23a"/><g stroke="#6fb6e0" stroke-width=".5" fill="none" opacity=".8"><path d="M81,250 l-4,-4 M81,250 l5,-2 M81,250 l0,6"/></g><path d="M5,160 q3,-4 6,0 t6,0" stroke="#f29aa0" stroke-width=".8" fill="none"/><g stroke="#9ad65a" stroke-width=".45" fill="#9ad65a" opacity="0.9"><path d="M5.5,116 L8,118 L11,117 M8,118 L7.5,121" fill="none"/><circle cx="8" cy="118" r=".9"/><circle cx="5.5" cy="116" r=".6"/><circle cx="11" cy="117" r=".6"/><circle cx="7.5" cy="121" r=".6"/></g><g stroke="#c9dc4a" stroke-width=".45" fill="#c9dc4a" opacity="0.9"><path d="M7.5,166 L10,168 L13,167 M10,168 L9.5,171" fill="none"/><circle cx="10" cy="168" r=".9"/><circle cx="7.5" cy="166" r=".6"/><circle cx="13" cy="167" r=".6"/><circle cx="9.5" cy="171" r=".6"/></g><g stroke="#8fc8ea" stroke-width=".45" fill="#8fc8ea" opacity="0.8"><path d="M77.0,262 L79.5,264 L82.5,263 M79.5,264 L79.0,267" fill="none"/><circle cx="79.5" cy="264" r=".9"/><circle cx="77.0" cy="262" r=".6"/><circle cx="82.5" cy="263" r=".6"/><circle cx="79.0" cy="267" r=".6"/></g><g stroke="#e6e24a" stroke-width=".45" fill="#e6e24a" opacity="0.9"><path d="M89.0,263.6 L91.5,265.6 L94.5,264.6 M91.5,265.6 L91.0,268.6" fill="none"/><circle cx="91.5" cy="265.6" r=".9"/><circle cx="89.0" cy="263.6" r=".6"/><circle cx="94.5" cy="264.6" r=".6"/><circle cx="91.0" cy="268.6" r=".6"/></g><g stroke="#a9cfe6" stroke-width=".45" fill="#a9cfe6" opacity="0.7"><path d="M63.5,283 L66,285 L69,284 M66,285 L65.5,288" fill="none"/><circle cx="66" cy="285" r=".9"/><circle cx="63.5" cy="283" r=".6"/><circle cx="69" cy="284" r=".6"/><circle cx="65.5" cy="288" r=".6"/></g><g stroke="#a9d8ee" stroke-width=".45" fill="#a9d8ee" opacity="0.7"><path d="M66.0,16 L68.5,18 L71.5,17 M68.5,18 L68.0,21" fill="none"/><circle cx="68.5" cy="18" r=".9"/><circle cx="66.0" cy="16" r=".6"/><circle cx="71.5" cy="17" r=".6"/><circle cx="68.0" cy="21" r=".6"/></g><g stroke="#9ad65a" stroke-width=".45" fill="#9ad65a" opacity="0.8"><path d="M81.5,393 L84,395 L87,394 M84,395 L83.5,398" fill="none"/><circle cx="84" cy="395" r=".9"/><circle cx="81.5" cy="393" r=".6"/><circle cx="87" cy="394" r=".6"/><circle cx="83.5" cy="398" r=".6"/></g><g stroke="#c9dc4a" stroke-width=".45" fill="#c9dc4a" opacity="0.8"><path d="M9.5,320 L12,322 L15,321 M12,322 L11.5,325" fill="none"/><circle cx="12" cy="322" r=".9"/><circle cx="9.5" cy="320" r=".6"/><circle cx="15" cy="321" r=".6"/><circle cx="11.5" cy="325" r=".6"/></g><g stroke="#a9cfe6" stroke-width=".45" fill="#a9cfe6" opacity="0.7"><path d="M67.5,338 L70,340 L73,339 M70,340 L69.5,343" fill="none"/><circle cx="70" cy="340" r=".9"/><circle cx="67.5" cy="338" r=".6"/><circle cx="73" cy="339" r=".6"/><circle cx="69.5" cy="343" r=".6"/></g><g stroke="#e6e24a" stroke-width=".45" fill="#e6e24a" opacity="0.8"><path d="M83.5,428 L86,430 L89,429 M86,430 L85.5,433" fill="none"/><circle cx="86" cy="430" r=".9"/><circle cx="83.5" cy="428" r=".6"/><circle cx="89" cy="429" r=".6"/><circle cx="85.5" cy="433" r=".6"/></g><g stroke="#9ad65a" stroke-width=".45" fill="#9ad65a" opacity=".9"><path d="M76.500,121 L81.500,126" fill="none"/><circle cx="76.500" cy="121" r=".8"/><circle cx="79" cy="123.500" r="1"/><circle cx="81.500" cy="126" r=".8"/></g>
<polygon points="45.5,283.5 52,276.5 52,283.5" fill="#e8e337"/><polygon points="20.9,305.1 18.0,306.7 15.1,305.1 15.1,301.8 18.0,300.1 20.9,301.8" fill="#c9399c"/><polygon points="17.9,299.9 15.0,301.6 12.2,299.9 12.2,296.6 15.0,295.0 17.9,296.6" fill="#c9399c"/><polygon points="23.8,299.9 21.0,301.6 18.1,299.9 18.1,296.6 21.0,295.0 23.8,296.6" fill="#c9399c"/><polygon points="52.6,327.0 50.3,331.0 45.7,331.0 43.4,327.0 45.7,323.0 50.3,323.0" fill="none" stroke="#1f3a5c" stroke-width="1.6"/><polygon points="3.0,335.8 1.5,336.6 0.0,335.8 0.0,334.0 1.5,333.2 3.0,334.0" fill="#fff" stroke="#222" stroke-width=".5"/><polygon points="6.0,335.8 4.5,336.6 3.0,335.8 3.0,334.0 4.5,333.2 6.0,334.0" fill="#f5c518" stroke="#222" stroke-width=".5"/><polygon points="9.0,335.8 7.5,336.6 6.0,335.8 6.0,334.0 7.5,333.2 9.0,334.0" fill="#fff" stroke="#222" stroke-width=".5"/><polygon points="4.5,338.4 3.0,339.2 1.5,338.4 1.5,336.6 3.0,335.8 4.5,336.6" fill="#f09a1a" stroke="#222" stroke-width=".5"/><polygon points="7.5,338.4 6.0,339.2 4.5,338.4 4.5,336.6 6.0,335.8 7.5,336.6" fill="#f5c518" stroke="#222" stroke-width=".5"/><polygon points="3.0,341.0 1.5,341.8 0.0,341.0 0.0,339.2 1.5,338.4 3.0,339.2" fill="#fff" stroke="#222" stroke-width=".5"/><polygon points="6.0,341.0 4.5,341.8 3.0,341.0 3.0,339.2 4.5,338.4 6.0,339.2" fill="#f5c518" stroke="#222" stroke-width=".5"/><circle cx="31" cy="343.5" r="1" fill="#e2b21c"/><circle cx="34.5" cy="346.5" r="1" fill="#e2b21c"/><circle cx="37" cy="349.5" r="1" fill="#e2b21c"/><circle cx="33" cy="348.5" r="1" fill="#e2b21c"/><polygon points="36.5,359.8 35.0,360.6 33.5,359.8 33.5,358.0 35.0,357.2 36.5,358.0" fill="#fff" stroke="#222" stroke-width=".5"/><polygon points="39.5,359.8 38.0,360.6 36.5,359.8 36.5,358.0 38.0,357.2 39.5,358.0" fill="#f5c518" stroke="#222" stroke-width=".5"/><polygon points="42.5,359.8 41.0,360.6 39.5,359.8 39.5,358.0 41.0,357.2 42.5,358.0" fill="#fff" stroke="#222" stroke-width=".5"/><polygon points="38.0,362.4 36.5,363.2 35.0,362.4 35.0,360.6 36.5,359.8 38.0,360.6" fill="#f09a1a" stroke="#222" stroke-width=".5"/><polygon points="41.0,362.4 39.5,363.2 38.0,362.4 38.0,360.6 39.5,359.8 41.0,360.6" fill="#f5c518" stroke="#222" stroke-width=".5"/><polygon points="36.5,365.0 35.0,365.8 33.5,365.0 33.5,363.2 35.0,362.4 36.5,363.2" fill="#fff" stroke="#222" stroke-width=".5"/><polygon points="39.5,365.0 38.0,365.8 36.5,365.0 36.5,363.2 38.0,362.4 39.5,363.2" fill="#f5c518" stroke="#222" stroke-width=".5"/><g fill="#1a1a1a" stroke="#1a1a1a" stroke-width=".5"><ellipse cx="19" cy="356.5" rx="2.3" ry="1.7"/><path d="M15.5,354.0 L22.5,359.0 M15.5,359.0 L22.5,354.0 M15,356.5 H23" fill="none"/></g><g stroke="#c9399c" stroke-width=".5" fill="#c9399c"><path d="M11,363.5 L5,358.5 M11,363.5 L18,362.5 M11,363.5 L15,369.5" fill="none"/><circle cx="11" cy="363.5" r="1.8"/><circle cx="5" cy="358.5" r="1"/><circle cx="18" cy="362.5" r="1"/><circle cx="15" cy="369.5" r="1"/></g><g fill="#1a1a1a" stroke="#1a1a1a" stroke-width=".5"><ellipse cx="3.5" cy="373.5" rx="2.3" ry="1.7"/><path d="M0.0,371.0 L7.0,376.0 M0.0,376.0 L7.0,371.0 M-0.5,373.5 H7.5" fill="none"/></g><g fill="#5a1022" stroke="#5a1022" stroke-width=".5"><ellipse cx="58" cy="373.1" rx="2.3" ry="1.7"/><path d="M54.5,370.6 L61.5,375.6 M54.5,375.6 L61.5,370.6 M54,373.1 H62" fill="none"/></g><polygon points="32.6,389.1 30.8,392.2 27.2,392.2 25.4,389.1 27.2,386.0 30.8,386.0" fill="none" stroke="#f0e530" stroke-width="1.5"/><polygon points="58.6,400.3 57.3,402.6 54.7,402.6 53.4,400.3 54.7,398.0 57.3,398.0" fill="none" stroke="#f0e530" stroke-width="1.3"/><g stroke="#c9399c" stroke-width=".5" fill="#c9399c"><path d="M41,404.5 L35,399.5 M41,404.5 L48,403.5 M41,404.5 L45,410.5" fill="none"/><circle cx="41" cy="404.5" r="1.8"/><circle cx="35" cy="399.5" r="1"/><circle cx="48" cy="403.5" r="1"/><circle cx="45" cy="410.5" r="1"/></g><g fill="#1a1a1a" stroke="#1a1a1a" stroke-width=".5"><ellipse cx="21" cy="409.5" rx="2.3" ry="1.7"/><path d="M17.5,407.0 L24.5,412.0 M17.5,412.0 L24.5,407.0 M17,409.5 H25" fill="none"/></g><polygon points="49.5,425.2 48.0,426.1 46.5,425.2 46.5,423.5 48.0,422.7 49.5,423.5" fill="#fff" stroke="#222" stroke-width=".5"/><polygon points="52.5,425.2 51.0,426.1 49.5,425.2 49.5,423.5 51.0,422.7 52.5,423.5" fill="#f5c518" stroke="#222" stroke-width=".5"/><polygon points="55.5,425.2 54.0,426.1 52.5,425.2 52.5,423.5 54.0,422.7 55.5,423.5" fill="#fff" stroke="#222" stroke-width=".5"/><polygon points="51.0,427.9 49.5,428.7 48.0,427.9 48.0,426.1 49.5,425.3 51.0,426.1" fill="#f09a1a" stroke="#222" stroke-width=".5"/><polygon points="54.0,427.9 52.5,428.7 51.0,427.9 51.0,426.1 52.5,425.3 54.0,426.1" fill="#f5c518" stroke="#222" stroke-width=".5"/><polygon points="49.5,430.5 48.0,431.3 46.5,430.5 46.5,428.8 48.0,427.9 49.5,428.8" fill="#fff" stroke="#222" stroke-width=".5"/><polygon points="52.5,430.5 51.0,431.3 49.5,430.5 49.5,428.8 51.0,427.9 52.5,428.8" fill="#f5c518" stroke="#222" stroke-width=".5"/><g fill="#5a1022" stroke="#5a1022" stroke-width=".5"><ellipse cx="52.6" cy="450.5" rx="2.3" ry="1.7"/><path d="M49.1,448.0 L56.1,453.0 M49.1,453.0 L56.1,448.0 M48.6,450.5 H56.6" fill="none"/></g><polygon points="36.9,459.3 34.0,460.9 31.1,459.3 31.1,456.0 34.0,454.3 36.9,456.0" fill="#c9399c"/><polygon points="33.9,454.1 31.0,455.8 28.2,454.1 28.2,450.8 31.0,449.2 33.9,450.8" fill="#c9399c"/><polygon points="39.8,454.1 37.0,455.8 34.1,454.1 34.1,450.8 37.0,449.2 39.8,450.8" fill="#c9399c"/><circle cx="18.7" cy="452.5" r="2.3" fill="#6fc3e8"/><circle cx="8.5" cy="483.2" r="1.8" fill="#3aa6df"/><circle cx="6.8" cy="480.3" r="1.8" fill="#3aa6df"/><circle cx="10.2" cy="480.3" r="1.8" fill="#3aa6df"/><g fill="#1a1a1a" stroke="#1a1a1a" stroke-width=".5"><ellipse cx="28" cy="501.0" rx="2.3" ry="1.7"/><path d="M24.5,498.5 L31.5,503.5 M24.5,503.5 L31.5,498.5 M24,501.0 H32" fill="none"/></g><circle cx="14" cy="530.5" r=".8" fill="#f2b33a"/><circle cx="17" cy="533.5" r=".8" fill="#f2b33a"/><circle cx="20" cy="530.5" r=".8" fill="#f2b33a"/><circle cx="23" cy="534.5" r=".8" fill="#f2b33a"/><circle cx="12" cy="535.5" r=".8" fill="#f2b33a"/><circle cx="26" cy="530.5" r=".8" fill="#f2b33a"/><circle cx="49.0" cy="280.8" r="1.7" fill="#e8e337"/><circle cx="47.4" cy="278.1" r="1.7" fill="#e8e337"/><circle cx="50.6" cy="278.1" r="1.7" fill="#e8e337"/><circle cx="85.0" cy="456.0" r="1.7" fill="#6cc04a"/><circle cx="83.4" cy="453.3" r="1.7" fill="#6cc04a"/><circle cx="86.6" cy="453.3" r="1.7" fill="#6cc04a"/><circle cx="70.0" cy="484.3" r="1.2" fill="#d8e23a"/><circle cx="68.9" cy="482.3" r="1.2" fill="#d8e23a"/><circle cx="71.1" cy="482.3" r="1.2" fill="#d8e23a"/><g stroke="#6fb6e0" stroke-width=".5" fill="none" opacity=".8"><path d="M81,518.5 l-4,-4 M81,518.5 l5,-2 M81,518.5 l0,6"/></g><path d="M5,428.5 q3,-4 6,0 t6,0" stroke="#f29aa0" stroke-width=".8" fill="none"/></g>
<path d="M429.4,24.5 V474.5 M660.8,25 V474.5" stroke="#2c5a66" stroke-width=".9" opacity=".32"/>
<g id="rx"><g fill="#1a1a1a" stroke="#1a1a1a" stroke-width=".5"><ellipse cx="901.600" cy="59.500" rx="2.300" ry="1.700"/><path d="M898,57 L905,62 M898,62 L905,57 M897.500,59.500 H905.500" fill="none"/></g><g stroke="#9ad65a" stroke-width=".45" fill="#9ad65a"><path d="M916.500,38 L920.500,34 M921,79 L925,74.500" fill="none"/><circle cx="916.500" cy="38" r=".8"/><circle cx="920.500" cy="34" r=".9"/><circle cx="921" cy="79" r=".8"/><circle cx="925" cy="74.500" r=".9"/></g><circle cx="904.700" cy="107" r="1.300" fill="#e8e64a"/></g>
<rect x="102" y="96.3" width="138" height="82" rx="2.5" fill="#fff"/>
<rect x="262" y="97" width="74" height="81.5" rx="2.5" fill="#fff"/>
<g id="uterus">
<path d="M129,119 C122,121 118,124 113,121 C109,118.5 105,119.5 104.5,124 C104,128 106,131 108,134" fill="none" stroke="#d8614f" stroke-width="2.2" stroke-linecap="round"/>
<path d="M160,119 C167,121 171,124 176,121 C180,118.5 184,119.5 184.5,124 C185,128 183,131 181,134" fill="none" stroke="#d8614f" stroke-width="2.2" stroke-linecap="round"/>
<ellipse cx="113.5" cy="132.3" rx="5.2" ry="3.6" fill="#f7dede" stroke="#d79a9a" stroke-width=".6"/>
<ellipse cx="175" cy="132.3" rx="5.2" ry="3.6" fill="#f7dede" stroke="#d79a9a" stroke-width=".6"/>
<path d="M128.5,119 C132,113.5 139,112.3 144.5,112.3 C150,112.3 157,113.5 160.5,119 C159,128 155,136 153,142 C156,147 156,153 153.5,157 C150.5,162 149.5,168 148.5,174 L141,174 C140,168 139,162 136,157 C133.5,153 133.5,147 136,142 C134,136 130,128 128.5,119 Z" fill="#efb2a2" stroke="#d9806c" stroke-width=".6"/>
<path d="M134.5,120 C140,118.2 149,118.2 154.5,120 C152,127 147.5,133 144.5,138.5 C141.5,133 137,127 134.5,120 Z" fill="#9b2c2a"/>
<path d="M139.5,142 L149.500,142 C150,148 151,152 150,156 L139,156 C138,152 139,148 139.500,142 Z" fill="#f6d6cc"/>
<path d="M144.5,138 V156" stroke="#d9806c" stroke-width=".5"/>
<path d="M137.5,157 C141,155 148,155 151.500,157 C150,162 149,168 148.3,173.700 L141.200,173.700 C140.500,168 139.500,162 137.500,157 Z" fill="#b4503c"/>
<path d="M140,160 C143,158.500 146,158.500 149,160 C148,163 147,165 144.5,166 C142,165 141,163 140,160Z" fill="#8f2d25"/>
</g>
<g stroke="#2faa55" stroke-width=".8" fill="#2faa55">
<path d="M144,125 L166.5,107" fill="none"/><polygon points="168.5,105.5 165,106.300 166.800,108.600" stroke="none"/>
<path d="M185.5,121 H207" fill="none"/><polygon points="209.500,121 206.500,119.700 206.500,122.300" stroke="none"/>
<path d="M112.5,131.4 L190,144 L175.5,134" fill="none"/>
<path d="M146.700,163.400 H168" fill="none"/><polygon points="170.500,163.400 167.500,162.100 167.500,164.700" stroke="none"/>
</g>
<g id="male"><clipPath id="mclip"><rect x="262" y="97" width="74" height="81.5" rx="2.5"/></clipPath><g clip-path="url(#mclip)">
<path d="M262,97 H290 C285,104 283,112 286,120 C290,128 292,134 288,142 C284,150 272,154 262,156 Z" fill="#ecc0bc"/>
<path d="M262,97 H276 C272,106 272,116 276,124 C280,132 280,140 274,146 C270,150 266,152 262,153 Z" fill="#d4888a"/>
<path d="M262,128 C270,128 276,132 276,139 C276,146 270,150 262,150 Z" fill="#f0d7cf"/>
<path d="M270,97 H326 C324,108 316,116 304,118 C290,120 276,114 270,97 Z" fill="#f7e3dc" stroke="#e2a79c" stroke-width=".8"/>
<path d="M336,97 V150 C330,140 326,128 326,97 Z" fill="#f5d9c8"/>
<path d="M290,120 C296,118 302,120 306,124 L300,140 C294,142 288,140 285,136 Z" fill="#efc9b8"/>
<ellipse cx="299" cy="130.500" rx="8.500" ry="4.800" transform="rotate(-38 299 130.500)" fill="#e6eef6" stroke="#b8c4d4" stroke-width=".6"/>
<path d="M288,140 C296,136 308,136 318,140 C324,143 326,150 325,160 C324,166 322,170 319,170 C316,170 315,166 315,160 C315,153 312,148 306,147 C298,146 292,147 288,148 Z" fill="#f3cdb6" stroke="#dba892" stroke-width=".6"/>
<path d="M326,97 C324,112 318,126 306,138" fill="none" stroke="#e5b07a" stroke-width="1"/>
<ellipse cx="305" cy="160.500" rx="8.500" ry="11" fill="#f3cdb6" stroke="#dba892" stroke-width=".6"/>
<ellipse cx="305" cy="161.500" rx="5" ry="7" transform="rotate(15 305 161.500)" fill="#e9f0f7" stroke="#b8c4d4" stroke-width=".6"/>
<ellipse cx="284" cy="132" rx="3" ry="4" fill="#c98d84"/>
<g stroke="#222" stroke-width=".45" fill="none"><path d="M284,107 V128"/><path d="M316,123 L303,139"/><path d="M327,139 L322,146"/><path d="M296,172 L304,163"/></g>
</g></g>
<rect x="169.700" y="276.200" width="158" height="12.200" rx="3" fill="#b6d334" stroke="#a3c02c" stroke-width=".6"/>
<g stroke="#6bb04c" stroke-width=".8" fill="none">
<path d="M204,288.500 V290 Q204,292.500 201.500,292.500 H141.500 Q139,292.500 139,295 V303"/>
<path d="M211.600,288.500 V303"/><path d="M283.200,288.500 V303"/>
<path d="M303.400,288.500 V290 Q303.400,292.500 305.900,292.500 H358.500 Q361,292.500 361,295 V303"/>
</g><g fill="#6bb04c"><polygon points="139,305.500 137.500,302 140.500,302"/><polygon points="211.600,305.500 210.100,302 213.100,302"/><polygon points="283.200,305.500 281.700,302 284.700,302"/><polygon points="361,305.500 359.500,302 362.500,302"/></g>
<rect x="102.6" y="306.800" width="67.6" height="44.600" rx="3" fill="#fff" stroke="#b9dba0" stroke-width=".8"/>
<rect x="174.7" y="306.800" width="68.3" height="44.600" rx="3" fill="#fff" stroke="#b9dba0" stroke-width=".8"/>
<rect x="248.6" y="306.800" width="68.8" height="44.600" rx="3" fill="#fff" stroke="#b9dba0" stroke-width=".8"/>
<rect x="322.8" y="306.800" width="82.2" height="44.600" rx="3" fill="#fff" stroke="#b9dba0" stroke-width=".8"/>
<rect x="123.800" y="359.900" width="76.500" height="10.300" rx="2.500" fill="#b6d334" stroke="#a3c02c" stroke-width=".5"/>
<g transform="translate(278.5,397.5) scale(1.0,1.0)"><ellipse cx="0" cy="0" rx="6" ry="4.200" fill="#3f9e3a"/><ellipse cx="-5" cy="-2.500" rx="3.200" ry="2.600" fill="#3f9e3a"/><path d="M3,1 L7,5 L2,5.500 Z M-3,2 L-5,6 L-1,5.500Z M4,-2 L8,-4 L7,0Z" fill="#2d7a2c"/><circle cx="-6" cy="-3.600" r=".7" fill="#123"/></g>
<g transform="translate(247,409) scale(-1.0,1.0)"><ellipse cx="0" cy="0" rx="6" ry="4.200" fill="#3f9e3a"/><ellipse cx="-5" cy="-2.500" rx="3.200" ry="2.600" fill="#3f9e3a"/><path d="M3,1 L7,5 L2,5.500 Z M-3,2 L-5,6 L-1,5.500Z M4,-2 L8,-4 L7,0Z" fill="#2d7a2c"/><circle cx="-6" cy="-3.600" r=".7" fill="#123"/></g>
<g transform="translate(246,433) scale(-0.9,0.9)"><ellipse cx="0" cy="0" rx="6" ry="4.200" fill="#3f9e3a"/><ellipse cx="-5" cy="-2.500" rx="3.200" ry="2.600" fill="#3f9e3a"/><path d="M3,1 L7,5 L2,5.500 Z M-3,2 L-5,6 L-1,5.500Z M4,-2 L8,-4 L7,0Z" fill="#2d7a2c"/><circle cx="-6" cy="-3.600" r=".7" fill="#123"/></g>
<path d="M270,438 C274,436 279,436.500 282,438 L291,438.500 L282,439.500 C279,440.500 274,440.500 270,438Z" fill="#3f9e3a"/>
<g fill="#3f9e3a"><ellipse cx="316" cy="423" rx="2.800" ry="1.100" transform="rotate(-40 316 423)"/><ellipse cx="311" cy="428.500" rx="2.800" ry="1.100" transform="rotate(-40 311 428.500)"/><ellipse cx="317.500" cy="427.500" rx="2.500" ry="1" transform="rotate(-40 317.500 427.500)"/></g>
<ellipse cx="304" cy="404" rx="5" ry="2.200" fill="#c9cfd2"/><circle cx="308.600" cy="399.800" r="2.600" fill="#f39a1f"/>
<path d="M289,399 L296,401.5" stroke="#e61f8e" stroke-width="1" fill="none"/><polygon points="296.0,401.5 293.4,401.9 294.3,399.6" fill="#e61f8e"/>
<path d="M314,411 L319,417" stroke="#e61f8e" stroke-width="1" fill="none"/><polygon points="319.0,417.0 316.6,416.0 318.5,414.4" fill="#e61f8e"/>
<path d="M303,436 L294,438.5" stroke="#e61f8e" stroke-width="1" fill="none"/><polygon points="294.0,438.5 295.9,436.7 296.5,439.1" fill="#e61f8e"/>
<path d="M266,438.5 L259,437" stroke="#e61f8e" stroke-width="1" fill="none"/><polygon points="259.0,437.0 261.5,436.3 261.0,438.7" fill="#e61f8e"/>
<path d="M238,426 L237.5,419" stroke="#e61f8e" stroke-width="1" fill="none"/><polygon points="237.5,419.0 238.9,421.2 236.4,421.4" fill="#e61f8e"/>
<path d="M259,401 L266,400" stroke="#e61f8e" stroke-width="1" fill="none"/><polygon points="266.0,400.0 263.9,401.6 263.6,399.1" fill="#e61f8e"/>
<circle cx="333" cy="402" r="2.600" fill="#f39a1f"/>
<path d="M335.500,409 C338,401 345,399 352,401 C349,407 343,410 335.500,409Z" fill="#6fbf3f"/><ellipse cx="343.500" cy="403.500" rx="2.800" ry="2" fill="#fff"/>
<path d="M355,393.500 C358,390 366,390 371,394 C366,397 359,397 355,393.500Z" fill="#6fbf3f"/><path d="M358,392 C361,391 366,392 369,394" stroke="#3d6e2a" stroke-width="1" fill="none"/>
<rect x="378.500" y="393.500" width="6" height="15" rx="1" fill="#9fd08a"/><path d="M381.500,394.500 V407" stroke="#4a6a3a" stroke-width="1.200"/>
<path d="M376,416.500 L384,416" stroke="#8a6a3a" stroke-width=".8"/><path d="M378.500,417 C381,417 382.500,420 382,425 C381.500,428 379,428 378.500,425 C378,422 377.500,419 378.500,417Z" fill="#6bb33b"/>
<g><path d="M355,425 C351,418 346,417 345,419 C344.500,423 349,426 352,427 C349,428 348,431 350,433 C352,434 354.500,430 355,427Z" fill="#1e6fd0" stroke="#123" stroke-width=".7"/><path d="M355,425 C359,418 364,417 365,419 C365.500,423 361,426 358,427 C361,428 362,431 360,433 C358,434 355.500,430 355,427Z" fill="#1e6fd0" stroke="#123" stroke-width=".7"/><path d="M355,422 V431" stroke="#123" stroke-width="1"/></g>
<path d="M349,398 L354,392.5" stroke="#e61f8e" stroke-width="1" fill="none"/><polygon points="354.0,392.5 353.4,395.0 351.5,393.3" fill="#e61f8e"/>
<path d="M370,391.5 L377,393.5" stroke="#e61f8e" stroke-width="1" fill="none"/><polygon points="377.0,393.5 374.5,394.1 375.1,391.7" fill="#e61f8e"/>
<path d="M386.5,408 L385.5,415" stroke="#e61f8e" stroke-width="1" fill="none"/><polygon points="385.5,415.0 384.6,412.6 387.1,412.9" fill="#e61f8e"/>
<path d="M385,419 L383,424" stroke="#e61f8e" stroke-width="1" fill="none"/><polygon points="383.0,424.0 382.7,421.4 385.0,422.3" fill="#e61f8e"/>
<path d="M376,428 L368,430" stroke="#e61f8e" stroke-width="1" fill="none"/><polygon points="368.0,430.0 369.9,428.2 370.5,430.7" fill="#e61f8e"/>
<path d="M344,428 L343.5,414" stroke="#e61f8e" stroke-width="1" fill="none"/><polygon points="343.5,414.0 344.8,416.2 342.3,416.3" fill="#e61f8e"/>
<defs><linearGradient id="og" x1="0" y1="0" x2="0" y2="1"><stop offset="0" stop-color="#f6a032"/><stop offset="1" stop-color="#ee8a1c"/></linearGradient><linearGradient id="pg2" x1="0" y1="0" x2="0" y2="1"><stop offset="0" stop-color="#a64fab"/><stop offset="1" stop-color="#9c44a1"/></linearGradient><radialGradient id="egg" cx=".4" cy=".35" r=".7"><stop offset="0" stop-color="#f7b0b5"/><stop offset="1" stop-color="#d6505f"/></radialGradient></defs>
<rect x="494.600" y="26" width="101.600" height="11.400" rx="3" fill="url(#og)"/>
<rect x="449.200" y="47" width="33" height="38.300" rx="3" fill="#fbeaf3" stroke="#e79ccb" stroke-width=".8"/>
<rect x="504" y="47.400" width="32.800" height="37.600" rx="3" fill="#eaf6fc" stroke="#9fd3ee" stroke-width=".8"/>
<g stroke="#e88cc2" stroke-width="2.600" fill="none" stroke-linecap="round"><circle cx="465.600" cy="56" r="5.300"/><path d="M465.600,61.300 V67.600 M462.200,64.600 H469"/></g><g stroke="#fbeaf3" stroke-width="1.200" fill="none" stroke-linecap="round"><circle cx="465.600" cy="56" r="5.300"/><path d="M465.600,61.300 V67.600 M462.200,64.600 H469"/></g>
<g stroke="#55acdc" stroke-width="2.600" fill="none" stroke-linecap="round" stroke-linejoin="round"><circle cx="518.800" cy="58.800" r="4.900"/><path d="M522.300,55.300 L528,49.600 M523.600,49.600 H528 V54"/></g><g stroke="#eaf6fc" stroke-width="1.200" fill="none" stroke-linecap="round" stroke-linejoin="round"><circle cx="518.800" cy="58.800" r="4.900"/><path d="M522.300,55.300 L528,49.600 M523.600,49.600 H528 V54"/></g>
<path d="M462,87 L462,96.5" stroke="#3fae62" stroke-width="0.7" fill="none"/><polygon points="462.0,96.5 460.9,94.2 463.1,94.2" fill="#3fae62"/>
<path d="M522,87 L522,96.5" stroke="#3fae62" stroke-width="0.7" fill="none"/><polygon points="522.0,96.5 520.9,94.2 523.1,94.2" fill="#3fae62"/>
<circle cx="464.800" cy="103.300" r="4.400" fill="url(#egg)"/>
<path d="M511.500,108.500 q1,-1.500 2.500,-1 M514.500,107 l1.300,-.5" stroke="#445" stroke-width=".5" fill="none"/>
<path d="M468.5,117 L486,127" stroke="#3fae62" stroke-width="0.7" fill="none"/><polygon points="486.0,127.0 483.4,126.8 484.5,124.9" fill="#3fae62"/>
<path d="M518.5,117 L501.5,127" stroke="#3fae62" stroke-width="0.7" fill="none"/><polygon points="501.5,127.0 502.9,124.8 504.1,126.8" fill="#3fae62"/>
<circle cx="493.300" cy="129.800" r="6.600" fill="#fbe3ea" opacity=".9"/><circle cx="493.300" cy="129.800" r="5.400" fill="url(#egg)"/><circle cx="493.300" cy="129.800" r="2" fill="#5a6fc0"/>
<path d="M493.4,145.5 L493.4,154" stroke="#3fae62" stroke-width="0.7" fill="none"/><polygon points="493.4,154.0 492.3,151.7 494.5,151.7" fill="#3fae62"/>
<path d="M491,156 C496,155 499,159 498,163 C497.500,166 494,166.500 493.500,169 C493,172 495,175 497.500,177 C498.500,179 497,181.500 494.500,181.500 C490,181 486.500,176 486,170 C485.500,163 487,157 491,156 Z" fill="#f7c59a" stroke="#ee9a62" stroke-width=".6"/><path d="M489,161 C488,166 488.500,172 491,177" stroke="#fbe0c6" stroke-width="1.200" fill="none"/><circle cx="494.500" cy="160" r=".7" fill="#d9763a"/>
<path d="M493,188.5 L493,197.5" stroke="#3fae62" stroke-width="0.7" fill="none"/><polygon points="493.0,197.5 491.9,195.2 494.1,195.2" fill="#3fae62"/>
<circle cx="493" cy="208" r="9.200" fill="#d3d9f4" stroke="#8fa0dc" stroke-width=".8"/><path d="M492,201.500 C496.500,201 498.500,204.500 497.500,207.500 C497,209.500 495.500,210.500 496,212.500 C494.500,215 491,214.500 490,212 C488.500,209 488.500,203.500 492,201.500Z" fill="#f29a5e"/><circle cx="494" cy="204.300" r="2.300" fill="#f7b98a"/>
<path d="M493,219 L493,229.5" stroke="#3fae62" stroke-width="0.7" fill="none"/><polygon points="493.0,229.5 491.9,227.2 494.1,227.2" fill="#3fae62"/>
<circle cx="492.500" cy="234" r="3" fill="#f6c79c"/><path d="M489,237 h7 q2,0 2,2 v4 h-9 z" fill="#6ec6ea"/><rect x="495.500" y="239" width="5" height="4.500" fill="#2d62b8"/><path d="M488,243 h6 v1.500 h-6z" fill="#f0d43a"/>
<rect x="475.600" y="276.300" width="130.200" height="11.600" rx="4.500" fill="url(#pg2)"/>
<g><path d="M541.600,301 C541.600,299.500 544,299.500 544,301 L544.300,322 C548,323 549,327 548.500,331 C548,335 545.500,337 542.800,337 C540,337 537.500,335 537,331 C536.500,327 537.500,323 541.300,322 Z" fill="#3aa33a"/><ellipse cx="542.800" cy="329" rx="4.200" ry="5.200" fill="#e8ee6a"/><ellipse cx="542.800" cy="329.500" rx="2.600" ry="3.300" fill="#5ab43c"/><ellipse cx="542.800" cy="329.500" rx="1.200" ry="1.600" fill="#f4f3a0"/></g>
<rect x="529.2" y="309.8" width="1.800" height="2.600" rx=".8" fill="#f3c62a"/>
<rect x="530.7" y="315.8" width="1.800" height="2.600" rx=".8" fill="#f3c62a"/>
<rect x="534.2" y="303.8" width="1.800" height="2.600" rx=".8" fill="#f3c62a"/>
<rect x="536.2" y="310.8" width="1.800" height="2.600" rx=".8" fill="#f3c62a"/>
<rect x="549.2" y="306.8" width="1.800" height="2.600" rx=".8" fill="#f3c62a"/>
<rect x="552.7" y="310.8" width="1.800" height="2.600" rx=".8" fill="#f3c62a"/>
<rect x="554.2" y="315.8" width="1.800" height="2.600" rx=".8" fill="#f3c62a"/>
<rect x="547.7" y="301.8" width="1.800" height="2.600" rx=".8" fill="#f3c62a"/>
<circle cx="572" cy="304.600" r="2.700" fill="#f39a1f"/>
<circle cx="572.700" cy="333.200" r="5.300" fill="#f6c77a" stroke="#ee8a2a" stroke-width="1.200"/><circle cx="572.700" cy="336.500" r="1" fill="#a33"/>
<circle cx="588.300" cy="354.500" r="5.300" fill="#8cc63e" stroke="#ee8a2a" stroke-width="1.200"/><ellipse cx="588.300" cy="355.500" rx="2.800" ry="3.200" fill="#f6c77a"/><circle cx="588.300" cy="357.500" r="1" fill="#a33"/>
<g><path d="M503,322 V344" stroke="#5a7a3a" stroke-width=".9"/><g stroke="#b08a5a" stroke-width=".5" fill="none"><path d="M503,343 l-5,6 M503,343 l-2.500,7.500 M503,343 l0,8 M503,343 l3,7 M503,343 l6,5.500 M503,343 l-8,3"/></g>
<g fill="#3e9b35"><circle cx="499" cy="310" r="4.500"/><circle cx="506" cy="308" r="4.200"/><circle cx="510" cy="315" r="4.500"/><circle cx="497" cy="318" r="4"/><circle cx="503.500" cy="316" r="5"/><circle cx="512" cy="324" r="4"/><circle cx="508.500" cy="330" r="3.500"/><circle cx="499" cy="326" r="3.500"/><circle cx="503" cy="303.500" r="2.800"/></g>
<circle cx="496.500" cy="306" r="2.200" fill="#fff7a0"/><circle cx="496.500" cy="306" r="1" fill="#f2c200"/><circle cx="504.500" cy="313" r="2.400" fill="#fff"/><circle cx="511" cy="310" r="1.800" fill="#fff7a0"/></g>
<g><path d="M503,366 C503,371 504,374 507,376" stroke="#5a8a3a" stroke-width=".8" fill="none"/><ellipse cx="499.500" cy="366" rx="3.500" ry="2.600" fill="#3e9b35"/><ellipse cx="506.500" cy="364.500" rx="3.500" ry="2.600" fill="#3e9b35"/><ellipse cx="507.700" cy="376.600" rx="2.600" ry="2" fill="#9a7242"/></g>
<ellipse cx="525.400" cy="383.600" rx="3.300" ry="2.300" fill="#9a7242"/><ellipse cx="544" cy="388.300" rx="3" ry="2.200" fill="#9a7242"/>
<g><path d="M569,358 C569,368 570,376 571,386" stroke="#3f8a2f" stroke-width="1" fill="none"/><g fill="#3e9b35"><circle cx="565" cy="365" r="3.500"/><circle cx="570.500" cy="361" r="3"/><circle cx="573.500" cy="368" r="3"/><circle cx="577" cy="376" r="3.600"/><circle cx="574" cy="380" r="2.600"/><circle cx="563" cy="370" r="2.600"/></g><circle cx="565.500" cy="377" r="3" fill="#e8862a"/><circle cx="564.800" cy="376.500" r="1.400" fill="#f4c27a"/></g>
<path d="M518,309 Q524,305 529,305" stroke="#7cc8ec" stroke-width=".8" fill="none"/><polygon points="529.5,305.0 527.4,306.2 527.4,303.8" fill="#7cc8ec"/>
<path d="M551,319 Q559,321 563,325" stroke="#7cc8ec" stroke-width=".8" fill="none"/><polygon points="563.5,325.5 561.1,325.0 562.6,323.3" fill="#7cc8ec"/>
<path d="M579,339 Q584,343 585,347" stroke="#7cc8ec" stroke-width=".8" fill="none"/><polygon points="585.2,347.5 583.5,345.8 585.7,345.2" fill="#7cc8ec"/>
<path d="M588,362 Q586,368 581,372" stroke="#7cc8ec" stroke-width=".8" fill="none"/><polygon points="580.5,372.4 581.3,370.1 582.8,371.8" fill="#7cc8ec"/>
<path d="M562,385 Q556,388 550,388.500" stroke="#7cc8ec" stroke-width=".8" fill="none"/><polygon points="549.5,388.5 551.6,387.3 551.6,389.6" fill="#7cc8ec"/>
<path d="M538,388 Q534,387 531,385.500" stroke="#7cc8ec" stroke-width=".8" fill="none"/><polygon points="530.5,385.3 532.9,385.0 532.1,387.1" fill="#7cc8ec"/>
<path d="M519,381.500 Q515,380 512,378" stroke="#7cc8ec" stroke-width=".8" fill="none"/><polygon points="511.6,377.7 514.0,377.8 512.8,379.8" fill="#7cc8ec"/>
<path d="M497,372 Q493,366 493,358" stroke="#7cc8ec" stroke-width=".8" fill="none"/><polygon points="493.0,357.5 494.1,359.6 491.8,359.6" fill="#7cc8ec"/>
<path d="M492.500,352 Q492,346 494,340" stroke="#7cc8ec" stroke-width=".8" fill="none"/><polygon points="494.2,339.5 494.7,341.8 492.5,341.2" fill="#7cc8ec"/>
<path d="M495.400,391 V399 H561.400 V391" stroke="#e86aa8" stroke-width=".8" fill="none"/>
<rect x="696.600" y="26.600" width="174.900" height="11.400" rx="3" fill="url(#og)"/>
<g id="flower">
<path d="M715,88 L714,96.500 L717.500,96.500 L718,88Z" fill="#4aa83a"/>
<path d="M712.500,87 C707,85.500 701,88 698,92 C703,93.500 709,91.500 712.500,87Z" fill="#5cbf3c"/><path d="M720.500,86 C725,84.500 730,85.500 732.500,88 C728,90 724,89 720.500,86Z" fill="#5cbf3c"/>
<path d="M716,84.500 C710,88 700,88.500 693,86 C691,82 692,78 694,76 C692,73 694,69 698,68 C702,66 706,66 709,66 C710,61 714,57 719,55.500 C724,55 729,57 731,61 C734,64 735,68 734,72 C736,75 736,80 734,84 C728,86.500 722,86.500 716,84.500 Z" fill="#a3459f"/>
<path d="M709,66 C711,72 714,78 716,84 M731,61 C726,68 720,76 716,84 M694,76 C702,78 710,81 716,84 M734,72 C728,76 721,80 716,84 M698,68 C704,73 711,79 716,84" stroke="#7f2f88" stroke-width=".7" fill="none" opacity=".8"/>
<path d="M716.300,64 L717,81" stroke="#3aa83a" stroke-width="1.600"/>
<g stroke="#e6a0c8" stroke-width=".6" fill="none"><path d="M715,82 L708,73 M715.500,81 L710.500,69.500 M716,80 L715,66.500 M717.500,80 L719,67 M718,81 L721.500,71 M718.500,82 L725,72.500"/></g>
<g fill="#f6c83a"><ellipse cx="708" cy="73" rx="1" ry="1.400"/><ellipse cx="710.500" cy="69.500" rx="1" ry="1.400"/><ellipse cx="715" cy="66.500" rx="1" ry="1.400"/><ellipse cx="719" cy="67" rx="1" ry="1.400"/><ellipse cx="721.500" cy="71" rx="1" ry="1.400"/><ellipse cx="725" cy="72.500" rx="1" ry="1.400"/></g>
<ellipse cx="716.500" cy="86" rx="2.800" ry="2.500" fill="#f0f4b0"/><ellipse cx="716.500" cy="82.500" rx="3" ry="4.300" fill="#d6ea5a"/><ellipse cx="716.500" cy="83" rx="1.500" ry="2.300" fill="#8ccf3f"/>
</g>
<path d="M726,59.9 L735,59.9" stroke="#1f2f6a" stroke-width=".6" fill="none"/><polygon points="735.0,59.9 733.1,61.0 733.1,58.8" fill="#1f2f6a"/>
<path d="M722,71 L728,72.6 L735.5,72.6" stroke="#1f2f6a" stroke-width=".6" fill="none"/><polygon points="735.5,72.6 733.6,73.7 733.6,71.5" fill="#1f2f6a"/>
<path d="M718,78 L727,83.4 L735.5,83.4" stroke="#1f2f6a" stroke-width=".6" fill="none"/><polygon points="735.5,83.4 733.6,84.5 733.6,82.3" fill="#1f2f6a"/>
<path d="M722,88 L729,93 L735.5,93" stroke="#1f2f6a" stroke-width=".6" fill="none"/><polygon points="735.5,93.0 733.6,94.1 733.6,91.9" fill="#1f2f6a"/>
<path d="M717,91 L729,109 L735.5,109" stroke="#1f2f6a" stroke-width=".6" fill="none"/><polygon points="735.5,109.0 733.6,110.1 733.6,107.9" fill="#1f2f6a"/>
<path d="M716,96 L729,119 L735.5,119" stroke="#1f2f6a" stroke-width=".6" fill="none"/><polygon points="735.5,119.0 733.6,120.1 733.6,117.9" fill="#1f2f6a"/>
<g><ellipse cx="701" cy="208" rx="10.500" ry="6.800" fill="#eef4b4"/><ellipse cx="700" cy="209" rx="6" ry="4" fill="#fafce0"/>
<path d="M697.800,143 C697.800,140.800 702,140.800 702,143 L702.800,160 C703.300,170 704.500,175 707,180 C710,185 711.200,190 711.200,195 C711.200,201 707,206 700.500,206 C694,206 690.300,201 690.300,195 C690.300,190 691.500,185 694,180 C696.500,175 697,170 697.200,160 Z" fill="#25a042"/>
<path d="M701,145 C701.300,156 701.800,168 703.500,177" stroke="#63c44c" stroke-width="1.300" fill="none"/>
<path d="M700.300,180.200 C705,183 708.800,188 708.800,193.500 C708.800,200 705,204.500 700.300,204.500 C695.500,204.500 691.800,200 691.800,193.500 C691.800,188 695.500,183 700.300,180.200 Z" fill="#2fa845" stroke="#f1f4a2" stroke-width="1.200"/>
<circle cx="699.800" cy="194" r="4.800" fill="#c6df58"/><circle cx="699.300" cy="193.300" r="2.600" fill="#e2ef88"/>
<path d="M695.500,198 C696.500,202 703.500,202 704.800,198" stroke="#f1f4a2" stroke-width=".8" fill="none"/></g>
<path d="M702,143 L719.6,143" stroke="#1f2f6a" stroke-width=".6" fill="none"/><polygon points="719.6,143.0 717.7,144.1 717.7,141.9" fill="#1f2f6a"/>
<path d="M702,162.4 L719.6,166.8" stroke="#1f2f6a" stroke-width=".6" fill="none"/><polygon points="719.6,166.8 717.5,167.4 718.0,165.3" fill="#1f2f6a"/>
<path d="M702,195.4 L719.6,196.5" stroke="#1f2f6a" stroke-width=".6" fill="none"/><polygon points="719.6,196.5 717.6,197.4 717.7,195.3" fill="#1f2f6a"/>
<path d="M802.200,181 C802.800,190 804.500,198 803.500,211" stroke="#f4e08a" stroke-width="1.300" fill="none"/><rect x="800" y="174.500" width="4.300" height="7" rx="1.500" fill="#f6d22a" stroke="#e8b41a" stroke-width=".4"/>
<path d="M807,175.6 L818,175.6" stroke="#1f2f6a" stroke-width=".6" fill="none"/><polygon points="818.0,175.6 816.1,176.7 816.1,174.5" fill="#1f2f6a"/>
<path d="M807,189.6 L818,189.6" stroke="#1f2f6a" stroke-width=".6" fill="none"/><polygon points="818.0,189.6 816.1,190.7 816.1,188.5" fill="#1f2f6a"/>
<rect x="722.100" y="276" width="155.300" height="11.900" rx="4.500" fill="url(#pg2)"/>
<g><path d="M709,298.500 C720,296 729,306 728.500,320 C728,333 722,343 713,343 C706,343 703,337 706,331 C708,327 706,324 703,320 C699,314 701,301 709,298.500Z" fill="#a8322c"/>
<path d="M708.500,299.500 C718,297.500 726,306 725.500,319.500 C725,331 720,340 712.500,340 C707,340 704.500,335.500 707,330.500 C709,326.500 707.500,323.500 704.500,319.500 C700.500,313.500 702,302 708.500,299.500Z" fill="#dcb57e"/>
<path d="M708.500,299.500 C714,299 718,303 719,309 C716,304 712,302 706,303Z" fill="#ebcf9f"/>
<ellipse cx="707.500" cy="321.800" rx="4" ry="4.800" fill="#8a2420"/></g>
<path d="M718.5,299.5 L731,300" stroke="#2d7fc0" stroke-width=".6" fill="none"/><polygon points="731.0,300.0 729.0,301.0 729.1,298.9" fill="#2d7fc0"/>
<path d="M721.8,321.8 L734,321.8" stroke="#2d7fc0" stroke-width=".6" fill="none"/><polygon points="734.0,321.8 732.1,322.9 732.1,320.7" fill="#2d7fc0"/>
<path d="M704.2,322.2 L700.2,322.2 L700.2,355.6 L708.6,355.6" stroke="#2d7fc0" stroke-width=".6" fill="none"/><polygon points="708.6,355.6 706.7,356.7 706.7,354.5" fill="#2d7fc0"/>
<defs><linearGradient id="sky" x1="0" y1="0" x2="0" y2="1"><stop offset="0" stop-color="#bfe3f6"/><stop offset="1" stop-color="#f4fbff"/></linearGradient><linearGradient id="soil" x1="0" y1="0" x2="0" y2="1"><stop offset="0" stop-color="#ad682f"/><stop offset="1" stop-color="#7c441c"/></linearGradient></defs>
<rect x="795.300" y="302.700" width="86.700" height="23" fill="url(#sky)"/><rect x="795.300" y="325.300" width="86.700" height="22.100" fill="url(#soil)"/>
<g><ellipse cx="805.700" cy="333.500" rx="2.300" ry="3" fill="#f1e6d2"/><circle cx="805.700" cy="333.800" r=".9" fill="#7a2a20"/>
<ellipse cx="818" cy="332.500" rx="2.300" ry="3" fill="#f1e6d2" transform="rotate(-25 818 332.500)"/><path d="M817,330 C818,327 821,326.500 822,329" stroke="#e9f2c8" stroke-width=".8" fill="none"/>
<path d="M840,337 V322" stroke="#3f8f2a" stroke-width=".8"/><path d="M840,322 C838,319 838.500,316.500 840,315 C841,317 841,320 840,322Z M840,322 C842.500,320.500 844.500,318 844.500,316 C842,316.500 840.500,319 840,322Z" fill="#3f8f2a"/>
<g stroke="#e8d8b8" stroke-width=".4" fill="none"><path d="M840,330 l-3,4 M840,331 l3,4 M840,333 l-1.500,5 M840,334 l2,4.500"/><path d="M863.500,329 l-6,4 M863.500,329 l6,4 M863.500,331 l-4,6 M863.500,331 l4,6 M863.500,332 l-1.500,7 M863.500,332 l2,7 M863.500,330 l-8,1 M863.500,330 l8,1.500"/></g>
<path d="M863.500,334 V306" stroke="#3f8f2a" stroke-width=".9"/>
<g fill="#3f8f2a"><ellipse cx="858" cy="307.500" rx="5" ry="2" transform="rotate(20 858 307.500)"/><ellipse cx="869" cy="307.500" rx="5" ry="2" transform="rotate(-20 869 307.500)"/><ellipse cx="857" cy="316" rx="4.500" ry="1.900" transform="rotate(15 857 316)"/><ellipse cx="870" cy="317.500" rx="4.500" ry="1.900" transform="rotate(-15 870 317.500)"/></g></g>
<circle cx="805.7" cy="343.500" r="2.700" fill="#f2e63a" stroke="#3a3a1a" stroke-width=".4"/>
<circle cx="820.5" cy="343.500" r="2.700" fill="#f2e63a" stroke="#3a3a1a" stroke-width=".4"/>
<circle cx="840" cy="343.500" r="2.700" fill="#f2e63a" stroke="#3a3a1a" stroke-width=".4"/>
<circle cx="863.4" cy="343.500" r="2.700" fill="#f2e63a" stroke="#3a3a1a" stroke-width=".4"/>
<polygon points="732.1,428.0 737.1,434.8 744.7,429.4 746.6,437.0 756.1,433.6 754.7,441.2 765.1,440.1 760.6,446.9 770.9,448.2 763.7,453.7 772.9,457.3 763.7,460.9 770.9,466.4 760.6,467.7 765.1,474.5 754.7,473.4 756.1,481.0 746.6,477.6 744.7,485.2 737.1,479.8 732.1,486.6 727.1,479.8 719.5,485.2 717.6,477.6 708.1,481.0 709.5,473.4 699.1,474.5 703.6,467.7 693.3,466.4 700.5,460.9 691.3,457.3 700.5,453.7 693.3,448.2 703.6,446.9 699.1,440.1 709.5,441.2 708.1,433.6 717.6,437.0 719.5,429.4 727.1,434.8" fill="#9a3fa3"/>
</svg>
<div id="tx">
<div class="t" style="left:100.60px;top:23.0px;font-size:25.4px;line-height:30.75px;color:#e8116c;font-weight:bold;letter-spacing:.2px;">İNSANDA ÜREME,<br>BÜYÜME VE GELİŞME</div>
<div class="t" style="left:172.00px;top:103.92px;font-size:6.4px;line-height:7.68px;color:#2b2b2b;">Döl yatağı</div>
<div class="t" style="left:213.60px;top:117.42px;font-size:6.4px;line-height:7.68px;color:#2b2b2b;">Yumurta</div>
<div class="t" style="left:217.00px;top:126.42px;font-size:6.4px;line-height:7.68px;color:#2b2b2b;">kanalı</div>
<div class="t" style="left:198.00px;top:143.42px;font-size:6.4px;line-height:7.68px;color:#2b2b2b;">Yumurtalık</div>
<div class="t" style="left:174.00px;top:160.42px;font-size:6.4px;line-height:7.68px;color:#2b2b2b;">Vajina (Döl yolu)</div>
<div class="t" style="left:269.40px;top:100.59px;font-size:5.2px;line-height:6.24px;color:#2b2b2b;">Salgı bezleri</div>
<div class="t" style="left:315.00px;top:112.29px;font-size:5.2px;line-height:6.24px;color:#2b2b2b;">Sperm</div>
<div class="t" style="left:316.00px;top:117.69px;font-size:5.2px;line-height:6.24px;color:#2b2b2b;">kanalı</div>
<div class="t" style="left:320.00px;top:133.09px;font-size:5.2px;line-height:6.24px;color:#2b2b2b;">Penis</div>
<div class="t" style="left:285.00px;top:170.79px;font-size:5.2px;line-height:6.24px;color:#2b2b2b;">Testisler</div>
<div class="t" style="left:101.80px;top:182.53px;font-size:6.55px;line-height:7.86px;color:#3d55a6;">Dişi Üreme Yapı ve Organları</div>
<div class="t" style="left:101.80px;top:194.73px;font-size:6.55px;line-height:7.86px;color:#2b2b2b;"><span class="p">Yumurtalık:</span> Yumurta üretir.</div>
<div class="t" style="left:101.80px;top:206.93px;font-size:6.55px;line-height:7.86px;color:#2b2b2b;word-spacing:0.163px;"><span class="p">Yumurta Kanalı:</span> Yumurtanın taşındığı ve döl-</div>
<div class="t" style="left:101.80px;top:215.63px;font-size:6.55px;line-height:7.86px;color:#2b2b2b;">lenmenin gerçekleştiği yerdir.</div>
<div class="t" style="left:101.80px;top:228.03px;font-size:6.55px;line-height:7.86px;color:#2b2b2b;"><span class="p">Döl Yatağı:</span> Embriyonun geliştiği kısımdır.</div>
<div class="t" style="left:101.80px;top:240.33px;font-size:6.55px;line-height:7.86px;color:#2b2b2b;"><span class="p">Döl Yolu:</span> Vücut dışına açılan kısımdır.</div>
<div class="t" style="left:253.50px;top:182.53px;font-size:6.55px;line-height:7.86px;color:#3d55a6;">Erkek Üreme Yapı ve Organları</div>
<div class="t" style="left:253.50px;top:194.73px;font-size:6.55px;line-height:7.86px;color:#2b2b2b;"><span class="p">Testis:</span> Sperm üretir.</div>
<div class="t" style="left:253.50px;top:206.93px;font-size:6.55px;line-height:7.86px;color:#2b2b2b;word-spacing:-0.120px;"><span class="p">Salgı bezleri:</span> Spermlerin hareke-</div>
<div class="t" style="left:253.50px;top:215.63px;font-size:6.55px;line-height:7.86px;color:#2b2b2b;">tini kolaylaştırır.</div>
<div class="t" style="left:253.50px;top:228.03px;font-size:6.55px;line-height:7.86px;color:#2b2b2b;word-spacing:1.219px;"><span class="p">Sperm kanalı:</span> Spermleri penise</div>
<div class="t" style="left:253.50px;top:236.73px;font-size:6.55px;line-height:7.86px;color:#2b2b2b;">taşır.</div>
<div class="t" style="left:253.50px;top:248.93px;font-size:6.55px;line-height:7.86px;color:#2b2b2b;word-spacing:0.878px;"><span class="p">Penis:</span> İdrar ve spermi vücut dı-</div>
<div class="t" style="left:253.50px;top:257.63px;font-size:6.55px;line-height:7.86px;color:#2b2b2b;">şına atar.</div>
<div class="t" style="left:148.70px;width:200px;text-align:center;top:278.70px;font-size:6.6px;line-height:7.92px;color:#2b2b2b;">Eşeysiz Üreme</div>
<div class="t" style="left:106.70px;top:312.16px;font-size:6.5px;line-height:7.8px;color:#e3219a;">Rejenerasyon Üreme</div>
<div class="t" style="left:107.20px;top:321.16px;font-size:6.5px;line-height:7.8px;color:#e3219a;"><span class="b">•</span></div>
<div class="t" style="left:110.80px;top:321.16px;font-size:6.5px;line-height:7.8px;color:#2b2b2b;">Deniz yıldızı</div>
<div class="t" style="left:107.20px;top:330.41px;font-size:6.5px;line-height:7.8px;color:#e3219a;"><span class="b">•</span></div>
<div class="t" style="left:110.80px;top:330.41px;font-size:6.5px;line-height:7.8px;color:#2b2b2b;">Toprak solucanı</div>
<div class="t" style="left:107.20px;top:339.66px;font-size:6.5px;line-height:7.8px;color:#e3219a;"><span class="b">•</span></div>
<div class="t" style="left:110.80px;top:339.66px;font-size:6.5px;line-height:7.8px;color:#2b2b2b;">Planarya</div>
<div class="t" style="left:178.80px;top:312.16px;font-size:6.5px;line-height:7.8px;color:#e3219a;">Bölünerek Üreme</div>
<div class="t" style="left:179.30px;top:321.16px;font-size:6.5px;line-height:7.8px;color:#e3219a;"><span class="b">•</span></div>
<div class="t" style="left:182.90px;top:321.16px;font-size:6.5px;line-height:7.8px;color:#2b2b2b;">Bakteri</div>
<div class="t" style="left:179.30px;top:330.41px;font-size:6.5px;line-height:7.8px;color:#e3219a;"><span class="b">•</span></div>
<div class="t" style="left:182.90px;top:330.41px;font-size:6.5px;line-height:7.8px;color:#2b2b2b;">Amip</div>
<div class="t" style="left:179.30px;top:339.66px;font-size:6.5px;line-height:7.8px;color:#e3219a;"><span class="b">•</span></div>
<div class="t" style="left:182.90px;top:339.66px;font-size:6.5px;line-height:7.8px;color:#2b2b2b;">Öglena</div>
<div class="t" style="left:253.00px;top:312.16px;font-size:6.5px;line-height:7.8px;color:#e3219a;">Vejetatif Üreme</div>
<div class="t" style="left:253.50px;top:321.16px;font-size:6.5px;line-height:7.8px;color:#e3219a;"><span class="b">•</span></div>
<div class="t" style="left:257.10px;top:321.16px;font-size:6.5px;line-height:7.8px;color:#2b2b2b;">Çilek</div>
<div class="t" style="left:253.50px;top:330.41px;font-size:6.5px;line-height:7.8px;color:#e3219a;"><span class="b">•</span></div>
<div class="t" style="left:257.10px;top:330.41px;font-size:6.5px;line-height:7.8px;color:#2b2b2b;">Kavak</div>
<div class="t" style="left:253.50px;top:339.66px;font-size:6.5px;line-height:7.8px;color:#e3219a;"><span class="b">•</span></div>
<div class="t" style="left:257.10px;top:339.66px;font-size:6.5px;line-height:7.8px;color:#2b2b2b;">Patates</div>
<div class="t" style="left:327.30px;top:312.16px;font-size:6.5px;line-height:7.8px;color:#e3219a;">Tomurcuklanarak Üreme</div>
<div class="t" style="left:327.80px;top:321.16px;font-size:6.5px;line-height:7.8px;color:#e3219a;"><span class="b">•</span></div>
<div class="t" style="left:331.40px;top:321.16px;font-size:6.5px;line-height:7.8px;color:#2b2b2b;">Denizanası</div>
<div class="t" style="left:327.80px;top:330.41px;font-size:6.5px;line-height:7.8px;color:#e3219a;"><span class="b">•</span></div>
<div class="t" style="left:331.40px;top:330.41px;font-size:6.5px;line-height:7.8px;color:#2b2b2b;">Bira mayası</div>
<div class="t" style="left:327.80px;top:339.66px;font-size:6.5px;line-height:7.8px;color:#e3219a;"><span class="b">•</span></div>
<div class="t" style="left:331.40px;top:339.66px;font-size:6.5px;line-height:7.8px;color:#2b2b2b;">Hidra</div>
<div class="t" style="left:62.00px;width:200px;text-align:center;top:361.56px;font-size:6.5px;line-height:7.8px;color:#2b2b2b;">Eşeyli Üreme</div>
<table class="t" style="left:101.300px;top:370.200px;font-size:6.6px;color:#2b2b2b;text-align:center;table-layout:fixed;width:123.6px"><colgroup><col style="width:42.800px"><col style="width:36.900px"><col style="width:43.900px"></colgroup><tr style="height:17.2px;background:#f9c9cb"><td style="border:1px solid #f0919c;padding:1.4px 0 0 0;line-height:8px">Hayvanlar</td><td style="border:1px solid #f0919c;padding:1.4px 0 0 0;line-height:8px">Çoğalma</td><td style="border:1px solid #f0919c;padding:1.4px 0 0 0;line-height:8px">Yavru Bakımı</td></tr><tr style="height:16.4px;background:#fff"><td style="border:1px solid #f0919c;padding:0.4px 0 0 0;line-height:8px">Balıklar</td><td style="border:1px solid #f0919c;padding:0.4px 0 0 0;line-height:8px">Yumurta</td><td style="border:1px solid #f0919c;padding:0.4px 0 0 0;line-height:8px">Yok</td></tr><tr style="height:16.4px;background:#fff"><td style="border:1px solid #f0919c;padding:0.4px 0 0 0;line-height:8px">Kurbağalar</td><td style="border:1px solid #f0919c;padding:0.4px 0 0 0;line-height:8px">Yumurta</td><td style="border:1px solid #f0919c;padding:0.4px 0 0 0;line-height:8px">Yok</td></tr><tr style="height:16.4px;background:#fff"><td style="border:1px solid #f0919c;padding:0.4px 0 0 0;line-height:8px">Sürüngenler</td><td style="border:1px solid #f0919c;padding:0.4px 0 0 0;line-height:8px">Yumurta</td><td style="border:1px solid #f0919c;padding:0.4px 0 0 0;line-height:8px">Yok</td></tr><tr style="height:16.4px;background:#fff"><td style="border:1px solid #f0919c;padding:0.4px 0 0 0;line-height:8px">Kuşlar</td><td style="border:1px solid #f0919c;padding:0.4px 0 0 0;line-height:8px">Yumurta</td><td style="border:1px solid #f0919c;padding:0.4px 0 0 0;line-height:8px">Var</td></tr><tr style="height:16.4px;background:#fff"><td style="border:1px solid #f0919c;padding:0.4px 0 0 0;line-height:8px">Memeliler</td><td style="border:1px solid #f0919c;padding:0.4px 0 0 0;line-height:8px">Doğurarak</td><td style="border:1px solid #f0919c;padding:0.4px 0 0 0;line-height:8px">Var</td></tr></table>
<div class="t" style="left:232.60px;top:374.07px;font-size:5.95px;line-height:7.14px;color:#e3219a;">Kurbağanın başkalaşım süreci:</div>
<div class="t" style="left:330.50px;top:374.07px;font-size:5.95px;line-height:7.14px;color:#e3219a;">Kelebeğin başkalaşım süreci:</div>
<div class="t" style="left:288.00px;top:388.14px;font-size:5.1px;line-height:6.12px;color:#2b2b2b;">Ergin kurbağa</div>
<div class="t" style="left:196.00px;width:200px;text-align:center;top:407.60px;font-size:5.1px;line-height:5.2px;color:#2b2b2b;">Döllenmiş<br>yumurtalar</div>
<div class="t" style="left:256.00px;top:407.60px;font-size:5.1px;line-height:5.2px;color:#2b2b2b;">Genç<br>kurbağa</div>
<div class="t" style="left:248.70px;top:426.14px;font-size:5.1px;line-height:6.12px;color:#2b2b2b;">Yavru kurbağa</div>
<div class="t" style="left:270.60px;top:441.94px;font-size:5.1px;line-height:6.12px;color:#2b2b2b;">İribaş</div>
<div class="t" style="left:307.60px;top:434.14px;font-size:5.1px;line-height:6.12px;color:#2b2b2b;">Larva</div>
<div class="t" style="left:346.60px;top:407.14px;font-size:5.1px;line-height:6.12px;color:#2b2b2b;">Yumurta</div>
<div class="t" style="left:357.00px;top:396.14px;font-size:5.1px;line-height:6.12px;color:#2b2b2b;">Larva</div>
<div class="t" style="left:385.50px;top:396.74px;font-size:5.1px;line-height:6.12px;color:#2b2b2b;">Tırtıl</div>
<div class="t" style="left:382.70px;top:422.94px;font-size:5.1px;line-height:6.12px;color:#2b2b2b;">Pupa</div>
<div class="t" style="left:345.60px;top:432.44px;font-size:5.1px;line-height:6.12px;color:#2b2b2b;">Kelebek</div>
<div class="t" style="left:208.60px;width:200px;text-align:center;top:397.88px;font-size:3.6px;line-height:4.32px;color:#7a4a00;">1</div>
<div class="t" style="left:233.00px;width:200px;text-align:center;top:400.08px;font-size:3.6px;line-height:4.32px;color:#7a4a00;">1</div>
<div class="t" style="left:445.00px;width:200px;text-align:center;top:27.15px;font-size:7.95px;line-height:9.54px;color:#fdf3e0;">İnsanda Üreme</div>
<div class="t" style="left:365.70px;width:200px;text-align:center;top:69.42px;font-size:5.6px;line-height:6.8px;color:#2b2b2b;">Dişi birey<br>Yumurtalık</div>
<div class="t" style="left:420.40px;width:200px;text-align:center;top:70.02px;font-size:5.6px;line-height:7px;color:#2b2b2b;">Erkek birey<br>Testis</div>
<div class="t" style="left:456.90px;top:109.60px;font-size:5.9px;line-height:7.08px;color:#2d4da0;">Yumurta</div>
<div class="t" style="left:509.90px;top:109.60px;font-size:5.9px;line-height:7.08px;color:#2d4da0;">Sperm</div>
<div class="t" style="left:504.50px;top:127.47px;font-size:5.6px;line-height:5.5px;color:#e0313f;">Yumurta<br>kanalı</div>
<div class="t" style="left:393.40px;width:200px;text-align:center;top:137.70px;font-size:5.9px;line-height:7.08px;color:#2d4da0;">Zigot</div>
<div class="t" style="left:500.00px;top:164.86px;font-size:5.6px;line-height:6.72px;color:#e0313f;">Döl yatağı</div>
<div class="t" style="left:393.00px;width:200px;text-align:center;top:180.70px;font-size:5.9px;line-height:7.08px;color:#2d4da0;">Embriyo</div>
<div class="t" style="left:503.00px;top:204.70px;font-size:5.9px;line-height:7.08px;color:#2d4da0;">Fetüs</div>
<div class="t" style="left:472.40px;top:237.10px;font-size:5.9px;line-height:7.08px;color:#2d4da0;">Bebek</div>
<div class="t" style="left:553.70px;top:72.66px;font-size:6.4px;line-height:9px;color:#e3219a;">Hamile bireylerin yapması<br>gerekenler:</div>
<div class="t" style="left:553.70px;top:95.32px;font-size:6.4px;line-height:7.68px;color:#e3219a;">•</div>
<div class="t" style="left:558.00px;top:95.32px;font-size:6.4px;line-height:7.68px;color:#2b2b2b;">Dengeli beslenmeli</div>
<div class="t" style="left:553.70px;top:108.02px;font-size:6.4px;line-height:7.68px;color:#e3219a;">•</div>
<div class="t" style="left:558.00px;top:108.02px;font-size:6.4px;line-height:7.68px;color:#2b2b2b;">Düzenli yürüyüş yapmalı</div>
<div class="t" style="left:553.70px;top:120.82px;font-size:6.4px;line-height:7.68px;color:#e3219a;">•</div>
<div class="t" style="left:558.00px;top:120.82px;font-size:6.4px;line-height:7.68px;color:#2b2b2b;">Gerekli vitamin ve mineral</div>
<div class="t" style="left:558.00px;top:133.62px;font-size:6.4px;line-height:7.68px;color:#2b2b2b;">almalı</div>
<div class="t" style="left:553.70px;top:164.42px;font-size:6.4px;line-height:7.68px;color:#e3219a;">Uzak durması gerekenler:</div>
<div class="t" style="left:553.70px;top:177.72px;font-size:6.4px;line-height:7.68px;color:#e3219a;">•</div>
<div class="t" style="left:558.00px;top:177.72px;font-size:6.4px;line-height:7.68px;color:#2b2b2b;">Radyasyon kaynakları</div>
<div class="t" style="left:553.70px;top:191.02px;font-size:6.4px;line-height:7.68px;color:#e3219a;">•</div>
<div class="t" style="left:558.00px;top:191.02px;font-size:6.4px;line-height:7.68px;color:#2b2b2b;">Zararlı alışkanlıklar</div>
<div class="t" style="left:553.70px;top:204.22px;font-size:6.4px;line-height:7.68px;color:#e3219a;">•</div>
<div class="t" style="left:558.00px;top:204.22px;font-size:6.4px;line-height:7.68px;color:#2b2b2b;">Ağır yük ve ağır spor hare-</div>
<div class="t" style="left:558.00px;top:217.42px;font-size:6.4px;line-height:7.68px;color:#2b2b2b;">ketleri</div>
<div class="t" style="left:440.20px;width:200px;text-align:center;top:277.88px;font-size:7.9px;line-height:9.48px;color:#fbeefb;">Çiçekli Bitkilerde Hayat Döngüsü</div>
<div class="t" style="left:438.00px;width:200px;text-align:center;top:293.55px;font-size:5.8px;line-height:6.96px;color:#2b2b2b;">Tozlaşma</div>
<div class="t" style="left:558.40px;top:308.35px;font-size:5.8px;line-height:6.96px;color:#2b2b2b;">Döllenme</div>
<div class="t" style="left:568.30px;top:320.75px;font-size:5.8px;line-height:6.96px;color:#2b2b2b;">Zigot</div>
<div class="t" style="left:550.00px;top:349.45px;font-size:5.8px;line-height:6.96px;color:#2b2b2b;">Embriyo</div>
<div class="t" style="left:509.00px;top:341.65px;font-size:5.8px;line-height:6.96px;color:#2b2b2b;">Yeni bitki</div>
<div class="t" style="left:476.00px;width:200px;text-align:center;top:388.83px;font-size:5.8px;line-height:5.6px;color:#2b2b2b;">Tohum<br>ve<br>meyve</div>
<div class="t" style="left:426.00px;width:200px;text-align:center;top:402.75px;font-size:5.8px;line-height:6.96px;color:#2b2b2b;">Çimlenme</div>
<div class="t" style="left:472.00px;width:200px;text-align:center;top:302.68px;font-size:3.6px;line-height:4.32px;color:#7a4a00;">1</div>
<div class="t" style="left:476.60px;top:422.48px;font-size:7px;line-height:8.4px;color:#e3219a;">Tozlaşma:</div>
<div class="t" style="left:476.40px;top:433.47px;font-size:6.3px;line-height:7.56px;color:#e3219a;">•</div>
<div class="t" style="left:480.00px;top:433.47px;font-size:6.3px;line-height:7.56px;color:#2b2b2b;word-spacing:0.795px;">Erkek organın başçığındaki polenlerin bitki-</div>
<div class="t" style="left:480.00px;top:441.87px;font-size:6.3px;line-height:7.56px;color:#2b2b2b;word-spacing:1.931px;">nin <span class="p">dişicik tepesine</span> taşınmasına <span class="p">tozlaşma</span></div>
<div class="t" style="left:480.00px;top:450.47px;font-size:6.3px;line-height:7.56px;color:#2b2b2b;">denir.</div>
<div class="t" style="left:476.40px;top:461.07px;font-size:6.3px;line-height:7.56px;color:#e3219a;">•</div>
<div class="t" style="left:480.00px;top:461.07px;font-size:6.3px;line-height:7.56px;color:#2b2b2b;word-spacing:-0.048px;">Bu olay <span class="p">rüzgâr, su ve canlılar</span> sayesinde ger-</div>
<div class="t" style="left:480.00px;top:469.07px;font-size:6.3px;line-height:7.56px;color:#2b2b2b;">çekleşir.</div>
<div class="t" style="left:683.50px;width:200px;text-align:center;top:28.15px;font-size:7.23px;line-height:8.68px;color:#fdf3e0;">BİTKİLERDE ÜREME, BÜYÜME VE GELİŞME</div>
<div class="t" style="left:690.80px;top:43.31px;font-size:7.3px;line-height:8.76px;color:#e3219a;font-weight:bold;">Çiçeğin Kısımları</div>
<div class="t" style="left:737.50px;top:56.60px;font-size:5.9px;line-height:7.08px;color:#2b2b2b;">Taç yapraklar</div>
<div class="t" style="left:737.50px;top:69.30px;font-size:5.9px;line-height:7.08px;color:#2b2b2b;">Erkek organ</div>
<div class="t" style="left:737.50px;top:80.10px;font-size:5.9px;line-height:7.08px;color:#2b2b2b;">Dişi organ</div>
<div class="t" style="left:737.50px;top:89.70px;font-size:5.9px;line-height:7.08px;color:#2b2b2b;">Çanak</div>
<div class="t" style="left:737.50px;top:96.90px;font-size:5.9px;line-height:7.08px;color:#2b2b2b;">yapraklar</div>
<div class="t" style="left:737.50px;top:105.70px;font-size:5.9px;line-height:7.08px;color:#2b2b2b;">Çiçek tablası</div>
<div class="t" style="left:737.50px;top:115.70px;font-size:5.9px;line-height:7.08px;color:#2b2b2b;">Çiçek sapı</div>
<div class="t" style="left:790.40px;top:45.36px;font-size:6.5px;line-height:7.8px;color:#2b2b2b;word-spacing:0.226px;"><span class="p">Taç Yaprak:</span> Renkli ve güzel ko-</div>
<div class="t" style="left:790.40px;top:53.96px;font-size:6.5px;line-height:7.8px;color:#2b2b2b;word-spacing:1.494px;">kusuyla arı ve böcekleri çeke-</div>
<div class="t" style="left:790.40px;top:62.46px;font-size:6.5px;line-height:7.8px;color:#2b2b2b;">rek tozlaşmaya yardımcı olur.</div>
<div class="t" style="left:790.40px;top:72.96px;font-size:6.5px;line-height:7.8px;color:#2b2b2b;word-spacing:0.552px;"><span class="p">Çanak Yaprak:</span> Yeşil renkli yap-</div>
<div class="t" style="left:790.40px;top:81.46px;font-size:6.5px;line-height:7.8px;color:#2b2b2b;">rakları ile fotosentez yapar.</div>
<div class="t" style="left:790.40px;top:91.76px;font-size:6.5px;line-height:7.8px;color:#2b2b2b;"><span class="p">Çiçek Tablası:</span> Çiçeği taşıyan</div>
<div class="t" style="left:790.40px;top:100.26px;font-size:6.5px;line-height:7.8px;color:#2b2b2b;">yapıdır.</div>
<div class="t" style="left:790.40px;top:110.76px;font-size:6.5px;line-height:7.8px;color:#2b2b2b;"><span class="p">Çiçek Sapı:</span> Su ve besin taşır,</div>
<div class="t" style="left:790.40px;top:119.26px;font-size:6.5px;line-height:7.8px;color:#2b2b2b;">çiçeği bitkinin dallarına bağlar.</div>
<div class="t" style="left:694.30px;top:130.11px;font-size:7.3px;line-height:8.76px;color:#e3219a;font-weight:bold;">Dişi Organ</div>
<div class="t" style="left:721.40px;top:139.70px;font-size:5.9px;line-height:7.08px;color:#e3219a;">Dişicik tepesi</div>
<div class="t" style="left:721.40px;top:147.09px;font-size:5.9px;line-height:7.5px;color:#2b2b2b;">Yapışkan ve pürüzlü<br>yapısı ile poleni tutar.</div>
<div class="t" style="left:721.40px;top:163.50px;font-size:5.9px;line-height:7.08px;color:#e3219a;">Dişicik borusu</div>
<div class="t" style="left:721.40px;top:170.99px;font-size:5.9px;line-height:7.7px;color:#2b2b2b;">Tutulan poleni yumurta-<br>ya ulaştırır.</div>
<div class="t" style="left:721.40px;top:193.20px;font-size:5.9px;line-height:7.08px;color:#e3219a;">Yumurtalık</div>
<div class="t" style="left:721.40px;top:200.34px;font-size:5.9px;line-height:7.6px;color:#2b2b2b;">Dişi üreme hücresi olan<br>yumurtayı üretir ve<br>döllenme burada<br>gerçekleşir.</div>
<div class="t" style="left:798.00px;top:159.31px;font-size:7.3px;line-height:8.76px;color:#e3219a;font-weight:bold;">Erkek Organ</div>
<div class="t" style="left:819.20px;top:172.00px;font-size:5.9px;line-height:7.08px;color:#2b2b2b;"><span class="p">Başçık:</span> Polen üretir.</div>
<div class="t" style="left:819.20px;top:186.30px;font-size:5.9px;line-height:7.08px;color:#e3219a;">Sapçık (İpçik):</div>
<div class="t" style="left:819.20px;top:193.79px;font-size:5.9px;line-height:7.3px;color:#2b2b2b;">Başçığı taşıyan<br>yapıdır.</div>
<div class="t" style="left:699.10px;width:200px;text-align:center;top:277.68px;font-size:7.9px;line-height:9.48px;color:#fbeefb;">Tohumun Yapısı ve Çimlenmesi</div>
<div class="t" style="left:732.40px;top:295.76px;font-size:6.6px;line-height:8px;color:#2b2b2b;">Tohum<br>kabuğu</div>
<div class="t" style="left:735.40px;top:315.44px;font-size:6.6px;line-height:8.25px;color:#2b2b2b;">Besin<br>doku<br>(Çenek)</div>
<div class="t" style="left:710.80px;top:351.90px;font-size:6.6px;line-height:7.92px;color:#2b2b2b;">Embriyo</div>
<div class="t" style="left:698.70px;top:372.66px;font-size:6.5px;line-height:7.8px;color:#e3219a;">Tohumun çimlenmesi için,</div>
<div class="t" style="left:698.70px;top:381.26px;font-size:6.5px;line-height:7.8px;color:#e3219a;">• S<span style="color:#2b2b2b">ıcaklık</span></div>
<div class="t" style="left:698.70px;top:389.86px;font-size:6.5px;line-height:7.8px;color:#e3219a;">• O<span style="color:#2b2b2b">ksijen</span></div>
<div class="t" style="left:698.70px;top:398.46px;font-size:6.5px;line-height:7.8px;color:#e3219a;">• Su</div>
<div class="t" style="left:698.70px;top:406.96px;font-size:6.5px;line-height:7.8px;color:#e3219a;">gereklidir.</div>
<div class="t" style="left:632.00px;width:200px;text-align:center;top:440.50px;font-size:6.85px;line-height:7.35px;color:#fff;font-weight:bold;">Tohum<br>çimlenene kadar<br>fotosentez yapmadığı<br>için ışığa ihtiyaç<br>duymaz.</div>
<div class="t" style="left:784.90px;top:293.06px;font-size:6.5px;line-height:7.8px;color:#e3219a;">Tohumun çimlenmesi:</div>
<div class="t" style="left:784.90px;top:351.06px;font-size:6.5px;line-height:7.8px;color:#2b2b2b;word-spacing:0.570px;">Tohumun yapısındaki embriyo kendisi</div>
<div class="t" style="left:784.90px;top:358.86px;font-size:6.5px;line-height:7.8px;color:#2b2b2b;word-spacing:0.195px;">için uygun şartlar oluştuğunda yeni bir</div>
<div class="t" style="left:784.90px;top:366.66px;font-size:6.5px;line-height:7.8px;color:#2b2b2b;word-spacing:1.572px;letter-spacing:-.35px;">bitki oluşturur. Bitkilerde çimlenme süreci:</div>
<div class="t" style="left:784.90px;top:375.36px;font-size:6.5px;line-height:7.8px;color:#e3219a;">1.</div>
<div class="t" style="left:792.40px;top:375.36px;font-size:6.5px;line-height:7.8px;color:#2b2b2b;word-spacing:-0.819px;">Su, tohumun şişerek kabuğunun çat-</div>
<div class="t" style="left:792.40px;top:384.06px;font-size:6.5px;line-height:7.8px;color:#2b2b2b;">lamasını sağlar.</div>
<div class="t" style="left:784.90px;top:393.16px;font-size:6.5px;line-height:7.8px;color:#e3219a;">2.</div>
<div class="t" style="left:792.40px;top:393.16px;font-size:6.5px;line-height:7.8px;color:#2b2b2b;">Bitki, kök salmaya başlar.</div>
<div class="t" style="left:784.90px;top:401.76px;font-size:6.5px;line-height:7.8px;color:#e3219a;">3.</div>
<div class="t" style="left:792.40px;top:401.76px;font-size:6.5px;line-height:7.8px;color:#2b2b2b;">Bitkinin yaprakları çıkmaya başlar.</div>
<div class="t" style="left:784.90px;top:410.36px;font-size:6.5px;line-height:7.8px;color:#e3219a;">4.</div>
<div class="t" style="left:792.40px;top:410.36px;font-size:6.5px;line-height:7.8px;color:#2b2b2b;word-spacing:1.104px;letter-spacing:-.45px;">Bitki fotosentez yaparak büyür ve gelişir.</div>
<div class="t" style="left:784.90px;top:422.76px;font-size:6.5px;line-height:7.8px;color:#e3219a;word-spacing:1.693px;">Bitkilerde büyüme ve gelişmeye etki</div>
<div class="t" style="left:784.90px;top:430.76px;font-size:6.5px;line-height:7.8px;color:#e3219a;">eden faktörler:</div>
<div class="t" style="left:784.40px;top:439.76px;font-size:6.5px;line-height:7.8px;color:#e3219a;">•</div>
<div class="t" style="left:788.40px;top:439.76px;font-size:6.5px;line-height:7.8px;color:#2b2b2b;">Genetik faktörler</div>
<div class="t" style="left:784.40px;top:448.26px;font-size:6.5px;line-height:7.8px;color:#e3219a;">•</div>
<div class="t" style="left:788.40px;top:448.26px;font-size:6.5px;line-height:7.8px;color:#2b2b2b;">Su miktarı</div>
<div class="t" style="left:784.40px;top:456.76px;font-size:6.5px;line-height:7.8px;color:#e3219a;">•</div>
<div class="t" style="left:788.40px;top:456.76px;font-size:6.5px;line-height:7.8px;color:#2b2b2b;">Sıcaklık değerleri</div>
<div class="t" style="left:784.40px;top:465.26px;font-size:6.5px;line-height:7.8px;color:#e3219a;">•</div>
<div class="t" style="left:788.40px;top:465.26px;font-size:6.5px;line-height:7.8px;color:#2b2b2b;">Mineral miktarı</div>
<div class="t" style="left:784.40px;top:473.76px;font-size:6.5px;line-height:7.8px;color:#e3219a;">•</div>
<div class="t" style="left:788.40px;top:473.76px;font-size:6.5px;line-height:7.8px;color:#2b2b2b;">Işık şiddeti</div>
<div class="t" style="left:705.70px;width:200px;text-align:center;top:341.36px;font-size:4px;line-height:4.8px;color:#222;">1</div>
<div class="t" style="left:720.50px;width:200px;text-align:center;top:341.36px;font-size:4px;line-height:4.8px;color:#222;">2</div>
<div class="t" style="left:740.00px;width:200px;text-align:center;top:341.36px;font-size:4px;line-height:4.8px;color:#222;">3</div>
<div class="t" style="left:763.40px;width:200px;text-align:center;top:341.36px;font-size:4px;line-height:4.8px;color:#222;">4</div>
</div>
<svg width="1000" height="500" viewBox="0 0 1000 500" style="pointer-events:none">
<path d="M-754.0,-10 L-234.0,510 M-439.0,-10 L-959.0,510 M-546.5,-10 L-26.5,510 M-231.5,-10 L-751.5,510 M-339.0,-10 L181.0,510 M-24.0,-10 L-544.0,510 M-131.5,-10 L388.5,510 M183.5,-10 L-336.5,510 M76.0,-10 L596.0,510 M391.0,-10 L-129.0,510 M283.5,-10 L803.5,510 M598.5,-10 L78.5,510 M491.0,-10 L1011.0,510 M806.0,-10 L286.0,510 M698.5,-10 L1218.5,510 M1013.5,-10 L493.5,510 M906.0,-10 L1426.0,510 M1221.0,-10 L701.0,510 M1113.5,-10 L1633.5,510 M1428.5,-10 L908.5,510 M1321.0,-10 L1841.0,510 M1636.0,-10 L1116.0,510" stroke="#31505e" stroke-width=".5" opacity=".13" fill="none"/>
<g transform="translate(26.0,147.5) rotate(-42)" fill="#17303c" opacity=".24"><path fill-rule="evenodd" d="M-9,-4 q0,-1.500 1.500,-1.500 h3.500 v-1.800 q0,-1.200 1.200,-1.200 h4.600 q1.200,0 1.200,1.200 v1.800 h4.500 q1.500,0 1.500,1.500 v9 q0,1.500 -1.500,1.500 h-15 q-1.500,0 -1.500,-1.500 z M0,-4.600 a5.100,5.100 0 1 0 0.010,0 z M0,-2.700 a3.200,3.200 0 1 1 -0.010,0 z"/></g>
<g transform="translate(26.0,356.0) rotate(-42)" fill="#17303c" opacity=".24"><path fill-rule="evenodd" d="M-9,-4 q0,-1.500 1.500,-1.500 h3.500 v-1.800 q0,-1.200 1.200,-1.200 h4.600 q1.200,0 1.200,1.200 v1.800 h4.500 q1.500,0 1.500,1.500 v9 q0,1.500 -1.500,1.500 h-15 q-1.500,0 -1.500,-1.500 z M0,-4.600 a5.100,5.100 0 1 0 0.010,0 z M0,-2.700 a3.200,3.200 0 1 1 -0.010,0 z"/></g>
<g transform="translate(233.5,147.5) rotate(-42)" fill="#17303c" opacity=".24"><path fill-rule="evenodd" d="M-9,-4 q0,-1.500 1.500,-1.500 h3.500 v-1.800 q0,-1.200 1.200,-1.200 h4.600 q1.200,0 1.200,1.200 v1.800 h4.500 q1.500,0 1.500,1.500 v9 q0,1.500 -1.500,1.500 h-15 q-1.500,0 -1.500,-1.500 z M0,-4.600 a5.100,5.100 0 1 0 0.010,0 z M0,-2.700 a3.200,3.200 0 1 1 -0.010,0 z"/></g>
<g transform="translate(233.5,356.0) rotate(-42)" fill="#17303c" opacity=".24"><path fill-rule="evenodd" d="M-9,-4 q0,-1.500 1.500,-1.500 h3.500 v-1.800 q0,-1.200 1.200,-1.200 h4.600 q1.200,0 1.200,1.200 v1.800 h4.500 q1.500,0 1.500,1.500 v9 q0,1.500 -1.500,1.500 h-15 q-1.500,0 -1.500,-1.500 z M0,-4.600 a5.100,5.100 0 1 0 0.010,0 z M0,-2.700 a3.200,3.200 0 1 1 -0.010,0 z"/></g>
<g transform="translate(441.0,147.5) rotate(-42)" fill="#17303c" opacity=".24"><path fill-rule="evenodd" d="M-9,-4 q0,-1.500 1.500,-1.500 h3.500 v-1.800 q0,-1.200 1.200,-1.200 h4.600 q1.200,0 1.200,1.200 v1.800 h4.500 q1.500,0 1.500,1.500 v9 q0,1.500 -1.500,1.500 h-15 q-1.500,0 -1.500,-1.500 z M0,-4.600 a5.100,5.100 0 1 0 0.010,0 z M0,-2.700 a3.200,3.200 0 1 1 -0.010,0 z"/></g>
<g transform="translate(441.0,356.0) rotate(-42)" fill="#17303c" opacity=".24"><path fill-rule="evenodd" d="M-9,-4 q0,-1.500 1.500,-1.500 h3.500 v-1.800 q0,-1.200 1.200,-1.200 h4.600 q1.200,0 1.200,1.200 v1.800 h4.500 q1.500,0 1.500,1.500 v9 q0,1.500 -1.500,1.500 h-15 q-1.500,0 -1.500,-1.500 z M0,-4.600 a5.100,5.100 0 1 0 0.010,0 z M0,-2.700 a3.200,3.200 0 1 1 -0.010,0 z"/></g>
<g transform="translate(648.5,147.5) rotate(-42)" fill="#17303c" opacity=".24"><path fill-rule="evenodd" d="M-9,-4 q0,-1.500 1.500,-1.500 h3.500 v-1.800 q0,-1.200 1.200,-1.200 h4.600 q1.200,0 1.200,1.200 v1.800 h4.500 q1.500,0 1.500,1.500 v9 q0,1.500 -1.500,1.500 h-15 q-1.500,0 -1.500,-1.500 z M0,-4.600 a5.100,5.100 0 1 0 0.010,0 z M0,-2.700 a3.200,3.200 0 1 1 -0.010,0 z"/></g>
<g transform="translate(648.5,356.0) rotate(-42)" fill="#17303c" opacity=".24"><path fill-rule="evenodd" d="M-9,-4 q0,-1.500 1.500,-1.500 h3.500 v-1.800 q0,-1.200 1.200,-1.200 h4.600 q1.200,0 1.200,1.200 v1.800 h4.500 q1.500,0 1.500,1.500 v9 q0,1.500 -1.500,1.500 h-15 q-1.500,0 -1.500,-1.500 z M0,-4.600 a5.100,5.100 0 1 0 0.010,0 z M0,-2.700 a3.200,3.200 0 1 1 -0.010,0 z"/></g>
<g transform="translate(856.0,147.5) rotate(-42)" fill="#17303c" opacity=".24"><path fill-rule="evenodd" d="M-9,-4 q0,-1.500 1.500,-1.500 h3.500 v-1.800 q0,-1.200 1.200,-1.200 h4.600 q1.200,0 1.200,1.200 v1.800 h4.500 q1.500,0 1.500,1.500 v9 q0,1.500 -1.500,1.500 h-15 q-1.500,0 -1.500,-1.500 z M0,-4.600 a5.100,5.100 0 1 0 0.010,0 z M0,-2.700 a3.200,3.200 0 1 1 -0.010,0 z"/></g>
<g transform="translate(856.0,356.0) rotate(-42)" fill="#17303c" opacity=".24"><path fill-rule="evenodd" d="M-9,-4 q0,-1.500 1.500,-1.500 h3.500 v-1.800 q0,-1.200 1.200,-1.200 h4.600 q1.200,0 1.200,1.200 v1.800 h4.500 q1.500,0 1.500,1.500 v9 q0,1.500 -1.500,1.500 h-15 q-1.500,0 -1.500,-1.500 z M0,-4.600 a5.100,5.100 0 1 0 0.010,0 z M0,-2.700 a3.200,3.200 0 1 1 -0.010,0 z"/></g>
<text x="131.5" y="45.5" transform="rotate(-45 131.5 43.5)" text-anchor="middle" font-family="Liberation Sans, sans-serif" font-size="6.5" letter-spacing=".85" fill="#2a3b44" opacity=".38">www.okulposterleri.com</text>
<text x="131.5" y="254.0" transform="rotate(-45 131.5 252.0)" text-anchor="middle" font-family="Liberation Sans, sans-serif" font-size="6.5" letter-spacing=".85" fill="#2a3b44" opacity=".38">www.okulposterleri.com</text>
<text x="127.5" y="462.0" transform="rotate(-45 127.5 460.0)" text-anchor="middle" font-family="Liberation Sans, sans-serif" font-size="6.5" letter-spacing=".85" fill="#2a3b44" opacity=".38">www.okulposterleri.com</text>
<text x="339.0" y="45.5" transform="rotate(-45 339.0 43.5)" text-anchor="middle" font-family="Liberation Sans, sans-serif" font-size="6.5" letter-spacing=".85" fill="#2a3b44" opacity=".38">www.okulposterleri.com</text>
<text x="339.0" y="254.0" transform="rotate(-45 339.0 252.0)" text-anchor="middle" font-family="Liberation Sans, sans-serif" font-size="6.5" letter-spacing=".85" fill="#2a3b44" opacity=".38">www.okulposterleri.com</text>
<text x="335.0" y="462.0" transform="rotate(-45 335.0 460.0)" text-anchor="middle" font-family="Liberation Sans, sans-serif" font-size="6.5" letter-spacing=".85" fill="#2a3b44" opacity=".38">www.okulposterleri.com</text>
<text x="546.5" y="45.5" transform="rotate(-45 546.5 43.5)" text-anchor="middle" font-family="Liberation Sans, sans-serif" font-size="6.5" letter-spacing=".85" fill="#2a3b44" opacity=".38">www.okulposterleri.com</text>
<text x="546.5" y="254.0" transform="rotate(-45 546.5 252.0)" text-anchor="middle" font-family="Liberation Sans, sans-serif" font-size="6.5" letter-spacing=".85" fill="#2a3b44" opacity=".38">www.okulposterleri.com</text>
<text x="542.5" y="462.0" transform="rotate(-45 542.5 460.0)" text-anchor="middle" font-family="Liberation Sans, sans-serif" font-size="6.5" letter-spacing=".85" fill="#2a3b44" opacity=".38">www.okulposterleri.com</text>
<text x="754.0" y="45.5" transform="rotate(-45 754.0 43.5)" text-anchor="middle" font-family="Liberation Sans, sans-serif" font-size="6.5" letter-spacing=".85" fill="#2a3b44" opacity=".38">www.okulposterleri.com</text>
<text x="754.0" y="254.0" transform="rotate(-45 754.0 252.0)" text-anchor="middle" font-family="Liberation Sans, sans-serif" font-size="6.5" letter-spacing=".85" fill="#2a3b44" opacity=".38">www.okulposterleri.com</text>
<text x="750.0" y="462.0" transform="rotate(-45 750.0 460.0)" text-anchor="middle" font-family="Liberation Sans, sans-serif" font-size="6.5" letter-spacing=".85" fill="#2a3b44" opacity=".38">www.okulposterleri.com</text>
<text x="961.5" y="45.5" transform="rotate(-45 961.5 43.5)" text-anchor="middle" font-family="Liberation Sans, sans-serif" font-size="6.5" letter-spacing=".85" fill="#2a3b44" opacity=".38">www.okulposterleri.com</text>
<text x="961.5" y="254.0" transform="rotate(-45 961.5 252.0)" text-anchor="middle" font-family="Liberation Sans, sans-serif" font-size="6.5" letter-spacing=".85" fill="#2a3b44" opacity=".38">www.okulposterleri.com</text>
<text x="957.5" y="462.0" transform="rotate(-45 957.5 460.0)" text-anchor="middle" font-family="Liberation Sans, sans-serif" font-size="6.5" letter-spacing=".85" fill="#2a3b44" opacity=".38">www.okulposterleri.com</text>
<text x="991.5" y="458.7" transform="rotate(-90 991.5 457.5)" text-anchor="middle" font-family="Liberation Sans, sans-serif" font-size="3.4" fill="#e6407a">www.okulposterleri.com</text>
</svg>
</div></body></html>
